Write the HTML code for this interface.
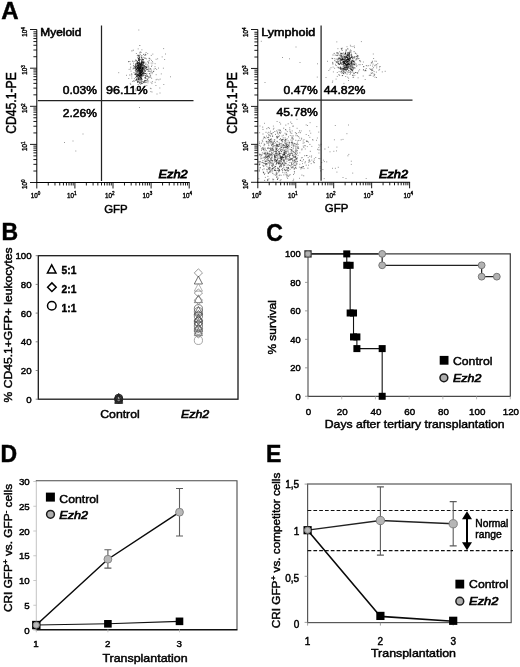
<!DOCTYPE html>
<html><head><meta charset="utf-8"><title>Figure</title>
<style>
html,body{margin:0;padding:0;background:#fff;}
body{width:520px;height:667px;overflow:hidden;font-family:"Liberation Sans",sans-serif;}
svg{display:block;filter:blur(0.35px);}
svg text{font-family:"Liberation Sans",sans-serif;fill:#000;stroke:#000;stroke-width:0.45px;}
</style></head><body>
<svg width="520" height="667" viewBox="0 0 520 667">
<rect width="520" height="667" fill="#fff"/>
<text x="1.3" y="19.3" font-size="24" text-anchor="start" font-weight="bold" >A</text>
<text x="1.5" y="240.3" font-size="23" text-anchor="start" font-weight="bold" >B</text>
<text x="266.3" y="241.3" font-size="23" text-anchor="start" font-weight="bold" >C</text>
<text x="0.5" y="461.8" font-size="23" text-anchor="start" font-weight="bold" >D</text>
<text x="266" y="462" font-size="23" text-anchor="start" font-weight="bold" >E</text>
<line x1="36.8" y1="29.5" x2="36.8" y2="183.0" stroke="#000" stroke-width="1" />
<line x1="36.3" y1="182.5" x2="189.7" y2="182.5" stroke="#000" stroke-width="1" />
<line x1="36.80" y1="182.5" x2="36.80" y2="188.48" stroke="#000" stroke-width="0.9" />
<line x1="36.8" y1="182.50" x2="30.00" y2="182.50" stroke="#000" stroke-width="0.9" />
<line x1="48.27" y1="182.5" x2="48.27" y2="185.49" stroke="#000" stroke-width="0.9" />
<line x1="36.8" y1="171.03" x2="33.40" y2="171.03" stroke="#000" stroke-width="0.9" />
<line x1="54.98" y1="182.5" x2="54.98" y2="185.49" stroke="#000" stroke-width="0.9" />
<line x1="36.8" y1="164.32" x2="33.40" y2="164.32" stroke="#000" stroke-width="0.9" />
<line x1="59.74" y1="182.5" x2="59.74" y2="185.49" stroke="#000" stroke-width="0.9" />
<line x1="36.8" y1="159.56" x2="33.40" y2="159.56" stroke="#000" stroke-width="0.9" />
<line x1="63.43" y1="182.5" x2="63.43" y2="185.49" stroke="#000" stroke-width="0.9" />
<line x1="36.8" y1="155.87" x2="33.40" y2="155.87" stroke="#000" stroke-width="0.9" />
<line x1="66.45" y1="182.5" x2="66.45" y2="185.49" stroke="#000" stroke-width="0.9" />
<line x1="36.8" y1="152.85" x2="33.40" y2="152.85" stroke="#000" stroke-width="0.9" />
<line x1="69.00" y1="182.5" x2="69.00" y2="185.49" stroke="#000" stroke-width="0.9" />
<line x1="36.8" y1="150.30" x2="33.40" y2="150.30" stroke="#000" stroke-width="0.9" />
<line x1="71.21" y1="182.5" x2="71.21" y2="185.49" stroke="#000" stroke-width="0.9" />
<line x1="36.8" y1="148.09" x2="33.40" y2="148.09" stroke="#000" stroke-width="0.9" />
<line x1="73.16" y1="182.5" x2="73.16" y2="185.49" stroke="#000" stroke-width="0.9" />
<line x1="36.8" y1="146.14" x2="33.40" y2="146.14" stroke="#000" stroke-width="0.9" />
<line x1="74.90" y1="182.5" x2="74.90" y2="188.48" stroke="#000" stroke-width="0.9" />
<line x1="36.8" y1="144.40" x2="30.00" y2="144.40" stroke="#000" stroke-width="0.9" />
<line x1="86.37" y1="182.5" x2="86.37" y2="185.49" stroke="#000" stroke-width="0.9" />
<line x1="36.8" y1="132.93" x2="33.40" y2="132.93" stroke="#000" stroke-width="0.9" />
<line x1="93.08" y1="182.5" x2="93.08" y2="185.49" stroke="#000" stroke-width="0.9" />
<line x1="36.8" y1="126.22" x2="33.40" y2="126.22" stroke="#000" stroke-width="0.9" />
<line x1="97.84" y1="182.5" x2="97.84" y2="185.49" stroke="#000" stroke-width="0.9" />
<line x1="36.8" y1="121.46" x2="33.40" y2="121.46" stroke="#000" stroke-width="0.9" />
<line x1="101.53" y1="182.5" x2="101.53" y2="185.49" stroke="#000" stroke-width="0.9" />
<line x1="36.8" y1="117.77" x2="33.40" y2="117.77" stroke="#000" stroke-width="0.9" />
<line x1="104.55" y1="182.5" x2="104.55" y2="185.49" stroke="#000" stroke-width="0.9" />
<line x1="36.8" y1="114.75" x2="33.40" y2="114.75" stroke="#000" stroke-width="0.9" />
<line x1="107.10" y1="182.5" x2="107.10" y2="185.49" stroke="#000" stroke-width="0.9" />
<line x1="36.8" y1="112.20" x2="33.40" y2="112.20" stroke="#000" stroke-width="0.9" />
<line x1="109.31" y1="182.5" x2="109.31" y2="185.49" stroke="#000" stroke-width="0.9" />
<line x1="36.8" y1="109.99" x2="33.40" y2="109.99" stroke="#000" stroke-width="0.9" />
<line x1="111.26" y1="182.5" x2="111.26" y2="185.49" stroke="#000" stroke-width="0.9" />
<line x1="36.8" y1="108.04" x2="33.40" y2="108.04" stroke="#000" stroke-width="0.9" />
<line x1="113.00" y1="182.5" x2="113.00" y2="188.48" stroke="#000" stroke-width="0.9" />
<line x1="36.8" y1="106.30" x2="30.00" y2="106.30" stroke="#000" stroke-width="0.9" />
<line x1="124.47" y1="182.5" x2="124.47" y2="185.49" stroke="#000" stroke-width="0.9" />
<line x1="36.8" y1="94.83" x2="33.40" y2="94.83" stroke="#000" stroke-width="0.9" />
<line x1="131.18" y1="182.5" x2="131.18" y2="185.49" stroke="#000" stroke-width="0.9" />
<line x1="36.8" y1="88.12" x2="33.40" y2="88.12" stroke="#000" stroke-width="0.9" />
<line x1="135.94" y1="182.5" x2="135.94" y2="185.49" stroke="#000" stroke-width="0.9" />
<line x1="36.8" y1="83.36" x2="33.40" y2="83.36" stroke="#000" stroke-width="0.9" />
<line x1="139.63" y1="182.5" x2="139.63" y2="185.49" stroke="#000" stroke-width="0.9" />
<line x1="36.8" y1="79.67" x2="33.40" y2="79.67" stroke="#000" stroke-width="0.9" />
<line x1="142.65" y1="182.5" x2="142.65" y2="185.49" stroke="#000" stroke-width="0.9" />
<line x1="36.8" y1="76.65" x2="33.40" y2="76.65" stroke="#000" stroke-width="0.9" />
<line x1="145.20" y1="182.5" x2="145.20" y2="185.49" stroke="#000" stroke-width="0.9" />
<line x1="36.8" y1="74.10" x2="33.40" y2="74.10" stroke="#000" stroke-width="0.9" />
<line x1="147.41" y1="182.5" x2="147.41" y2="185.49" stroke="#000" stroke-width="0.9" />
<line x1="36.8" y1="71.89" x2="33.40" y2="71.89" stroke="#000" stroke-width="0.9" />
<line x1="149.36" y1="182.5" x2="149.36" y2="185.49" stroke="#000" stroke-width="0.9" />
<line x1="36.8" y1="69.94" x2="33.40" y2="69.94" stroke="#000" stroke-width="0.9" />
<line x1="151.10" y1="182.5" x2="151.10" y2="188.48" stroke="#000" stroke-width="0.9" />
<line x1="36.8" y1="68.20" x2="30.00" y2="68.20" stroke="#000" stroke-width="0.9" />
<line x1="162.57" y1="182.5" x2="162.57" y2="185.49" stroke="#000" stroke-width="0.9" />
<line x1="36.8" y1="56.73" x2="33.40" y2="56.73" stroke="#000" stroke-width="0.9" />
<line x1="169.28" y1="182.5" x2="169.28" y2="185.49" stroke="#000" stroke-width="0.9" />
<line x1="36.8" y1="50.02" x2="33.40" y2="50.02" stroke="#000" stroke-width="0.9" />
<line x1="174.04" y1="182.5" x2="174.04" y2="185.49" stroke="#000" stroke-width="0.9" />
<line x1="36.8" y1="45.26" x2="33.40" y2="45.26" stroke="#000" stroke-width="0.9" />
<line x1="177.73" y1="182.5" x2="177.73" y2="185.49" stroke="#000" stroke-width="0.9" />
<line x1="36.8" y1="41.57" x2="33.40" y2="41.57" stroke="#000" stroke-width="0.9" />
<line x1="180.75" y1="182.5" x2="180.75" y2="185.49" stroke="#000" stroke-width="0.9" />
<line x1="36.8" y1="38.55" x2="33.40" y2="38.55" stroke="#000" stroke-width="0.9" />
<line x1="183.30" y1="182.5" x2="183.30" y2="185.49" stroke="#000" stroke-width="0.9" />
<line x1="36.8" y1="36.00" x2="33.40" y2="36.00" stroke="#000" stroke-width="0.9" />
<line x1="185.51" y1="182.5" x2="185.51" y2="185.49" stroke="#000" stroke-width="0.9" />
<line x1="36.8" y1="33.79" x2="33.40" y2="33.79" stroke="#000" stroke-width="0.9" />
<line x1="187.46" y1="182.5" x2="187.46" y2="185.49" stroke="#000" stroke-width="0.9" />
<line x1="36.8" y1="31.84" x2="33.40" y2="31.84" stroke="#000" stroke-width="0.9" />
<line x1="189.2" y1="182.5" x2="189.2" y2="188.5" stroke="#000" stroke-width="0.9" />
<line x1="36.8" y1="29.5" x2="29.999999999999996" y2="29.5" stroke="#000" stroke-width="0.9" />
<text x="35.6" y="197.7" font-size="6.3" style="stroke-width:0.35px" text-anchor="middle">10<tspan dy="-2.5" font-size="4.6">0</tspan></text>
<text transform="translate(26.999999999999996,184.3) rotate(-90)" font-size="6.3" style="stroke-width:0.35px" text-anchor="middle">10<tspan dy="-2.5" font-size="4.6">0</tspan></text>
<text x="71.8" y="197.7" font-size="6.3" style="stroke-width:0.35px" text-anchor="middle">10<tspan dy="-2.5" font-size="4.6">1</tspan></text>
<text transform="translate(26.999999999999996,146.2) rotate(-90)" font-size="6.3" style="stroke-width:0.35px" text-anchor="middle">10<tspan dy="-2.5" font-size="4.6">1</tspan></text>
<text x="109.8" y="197.7" font-size="6.3" style="stroke-width:0.35px" text-anchor="middle">10<tspan dy="-2.5" font-size="4.6">2</tspan></text>
<text transform="translate(26.999999999999996,108.1) rotate(-90)" font-size="6.3" style="stroke-width:0.35px" text-anchor="middle">10<tspan dy="-2.5" font-size="4.6">2</tspan></text>
<text x="147.4" y="197.7" font-size="6.3" style="stroke-width:0.35px" text-anchor="middle">10<tspan dy="-2.5" font-size="4.6">3</tspan></text>
<text transform="translate(26.999999999999996,70.0) rotate(-90)" font-size="6.3" style="stroke-width:0.35px" text-anchor="middle">10<tspan dy="-2.5" font-size="4.6">3</tspan></text>
<text x="187.2" y="197.7" font-size="6.3" style="stroke-width:0.35px" text-anchor="middle">10<tspan dy="-2.5" font-size="4.6">4</tspan></text>
<text transform="translate(26.999999999999996,31.9) rotate(-90)" font-size="6.3" style="stroke-width:0.35px" text-anchor="middle">10<tspan dy="-2.5" font-size="4.6">4</tspan></text>
<line x1="101.5" y1="25.5" x2="101.5" y2="181.0" stroke="#222" stroke-width="1.25" />
<line x1="37.8" y1="100.5" x2="193.5" y2="100.5" stroke="#222" stroke-width="1.25" />
<path d="M137.0 72.1h.01M142.1 66.7h.01M136.7 69.4h.01M140.9 76.4h.01M137.0 62.0h.01M141.4 72.6h.01M143.3 75.7h.01M139.6 68.2h.01M145.7 68.1h.01M138.0 63.0h.01M140.0 70.7h.01M139.0 69.4h.01M140.4 74.0h.01M142.3 71.1h.01M135.7 74.0h.01M136.5 68.8h.01M136.4 69.8h.01M138.0 71.1h.01M147.4 69.5h.01M141.7 61.9h.01M139.1 73.8h.01M139.6 72.0h.01M140.0 63.8h.01M141.1 64.9h.01M144.1 66.8h.01M141.4 69.8h.01M142.0 66.2h.01M142.1 69.1h.01M142.7 73.5h.01M140.1 65.1h.01M141.6 72.6h.01M143.6 67.5h.01M141.1 72.8h.01M140.5 71.1h.01M140.2 66.2h.01M137.5 67.4h.01M141.2 78.9h.01M142.0 76.1h.01M141.6 74.0h.01M140.2 74.4h.01M143.9 67.8h.01M138.2 81.6h.01M140.4 75.6h.01M141.8 63.0h.01M145.4 80.5h.01M140.2 74.3h.01M140.1 64.5h.01M139.5 72.0h.01M142.4 74.1h.01M139.9 77.9h.01M138.1 74.6h.01M142.4 68.0h.01M135.7 64.4h.01M140.3 73.0h.01M143.4 63.8h.01M139.8 73.7h.01M139.4 55.6h.01M141.7 83.7h.01M142.1 64.3h.01M138.9 71.1h.01M145.5 73.5h.01M140.1 79.1h.01M139.6 81.0h.01M138.2 67.0h.01M141.5 78.3h.01M141.3 71.6h.01M135.6 65.5h.01M138.4 66.6h.01M141.1 67.8h.01M141.6 70.3h.01M139.0 70.5h.01M140.8 74.9h.01M138.7 68.4h.01M136.7 79.4h.01M143.1 68.7h.01M138.7 62.4h.01M140.2 71.0h.01M144.8 71.3h.01M138.0 55.1h.01M143.0 70.9h.01M136.1 70.9h.01M136.1 90.7h.01M142.4 73.2h.01M139.4 57.0h.01M139.5 60.5h.01M141.2 57.0h.01M137.7 77.1h.01M143.6 62.7h.01M136.3 75.1h.01M141.8 63.9h.01M138.2 65.6h.01M137.1 65.7h.01M142.7 73.9h.01M144.5 69.3h.01M139.5 63.9h.01M139.5 61.9h.01M135.7 74.0h.01M143.1 74.8h.01M142.9 71.3h.01M138.1 70.3h.01M138.9 63.1h.01M135.9 60.9h.01M139.8 70.7h.01M138.7 78.4h.01M140.2 73.3h.01M142.6 64.9h.01M135.3 74.3h.01M138.2 77.7h.01M140.6 75.8h.01M141.6 57.3h.01M141.5 65.8h.01M138.1 67.2h.01M141.6 75.1h.01M142.1 59.8h.01M138.4 55.5h.01M139.6 73.4h.01M138.0 71.3h.01M140.3 75.8h.01M137.9 64.8h.01M138.0 80.3h.01M142.3 69.1h.01M140.3 70.5h.01M140.3 68.5h.01M139.0 62.3h.01M138.3 79.7h.01M141.0 70.2h.01M139.3 70.2h.01M140.6 65.9h.01M140.3 71.2h.01M138.1 65.1h.01M137.5 63.4h.01M141.8 55.6h.01M139.2 66.1h.01M138.4 70.4h.01M142.4 70.3h.01M139.5 66.1h.01M139.5 75.3h.01M138.9 62.9h.01M136.9 63.2h.01M136.6 76.4h.01M140.6 68.4h.01M143.2 65.9h.01M141.5 74.6h.01M136.2 60.5h.01M137.7 75.2h.01M142.8 62.4h.01M142.2 67.5h.01M138.9 66.5h.01M139.1 58.9h.01M137.5 62.4h.01M140.9 82.3h.01M146.1 67.8h.01M135.8 67.4h.01M137.6 81.7h.01M141.1 65.4h.01M142.0 73.0h.01M136.1 66.6h.01M139.2 69.9h.01M140.1 67.8h.01M140.2 66.3h.01M137.7 78.9h.01M140.6 72.4h.01M136.1 68.8h.01M141.7 62.1h.01M142.3 67.5h.01M140.7 69.0h.01M140.3 77.0h.01M138.9 79.2h.01M138.0 64.2h.01M141.4 63.4h.01M138.9 75.2h.01M142.6 59.2h.01M141.0 81.1h.01M142.5 68.4h.01M138.4 68.0h.01M137.1 68.2h.01M139.4 68.9h.01M142.5 68.4h.01M136.4 76.1h.01M137.3 67.1h.01M139.5 67.7h.01M137.5 68.3h.01M144.8 66.2h.01M139.5 76.5h.01M141.5 74.4h.01M141.8 58.0h.01M137.8 70.6h.01M140.9 77.6h.01M140.9 68.4h.01M139.9 68.5h.01M140.4 73.8h.01M139.0 64.9h.01M137.8 76.4h.01M142.7 75.8h.01M141.8 74.8h.01M139.8 73.8h.01M137.4 68.6h.01M138.1 74.2h.01M138.5 69.2h.01M140.7 77.9h.01M138.0 64.2h.01M141.7 63.2h.01M140.8 66.4h.01M139.6 58.9h.01M141.4 66.8h.01M137.7 82.3h.01M141.4 90.9h.01M140.7 67.7h.01M140.0 79.4h.01M139.7 72.5h.01M141.0 64.3h.01M140.1 66.8h.01M136.9 75.0h.01M141.3 70.2h.01M137.7 57.8h.01M140.9 69.2h.01M135.9 69.4h.01M136.3 69.6h.01M140.1 71.9h.01M140.3 70.8h.01M137.2 67.5h.01M138.6 68.4h.01M140.4 73.5h.01M143.6 54.4h.01M140.7 68.6h.01M145.0 75.4h.01M136.0 72.2h.01M138.6 75.8h.01M137.4 69.2h.01M139.5 69.2h.01M138.5 58.8h.01M140.9 75.8h.01M139.6 63.7h.01M140.3 73.2h.01M139.4 69.7h.01M143.0 63.1h.01M138.5 58.4h.01M138.2 65.4h.01M137.6 65.6h.01M143.9 68.6h.01M139.5 83.0h.01M139.7 59.4h.01M140.7 64.2h.01M143.6 62.3h.01M138.5 60.2h.01M140.0 63.7h.01M139.6 67.5h.01M138.4 75.5h.01M142.0 70.2h.01M137.7 63.4h.01M140.4 84.1h.01M138.7 65.1h.01M138.2 63.2h.01M137.6 68.6h.01M143.1 69.8h.01M138.6 60.1h.01M140.3 69.6h.01M137.0 63.3h.01M139.7 75.9h.01M141.2 71.0h.01M139.1 71.7h.01M139.8 82.8h.01M137.2 67.6h.01M142.7 68.2h.01M143.1 69.5h.01M140.1 67.6h.01M136.6 64.0h.01M144.9 73.7h.01M141.2 75.5h.01M141.1 75.9h.01" stroke="#000" stroke-opacity="0.6" stroke-width="0.95" stroke-linecap="square" fill="none"/>
<path d="M139.4 68.2h.01M144.6 67.2h.01M134.9 68.2h.01M138.2 74.9h.01M137.5 61.5h.01M139.1 82.4h.01M140.3 71.3h.01M140.5 72.4h.01M144.4 81.2h.01M133.6 80.9h.01M140.5 67.4h.01M150.6 68.6h.01M148.7 77.7h.01M136.2 73.9h.01M143.6 69.0h.01M130.7 67.2h.01M139.7 61.1h.01M148.2 68.0h.01M138.8 67.6h.01M137.2 63.8h.01M140.9 72.5h.01M138.4 69.3h.01M134.7 74.2h.01M137.4 71.7h.01M136.7 65.9h.01M141.4 60.3h.01M150.9 69.7h.01M140.2 64.1h.01M147.2 81.1h.01M141.8 59.1h.01M138.4 74.9h.01M138.3 60.5h.01M135.5 63.8h.01M140.6 64.8h.01M140.6 92.3h.01M147.9 61.7h.01M141.9 70.7h.01M139.9 78.3h.01M139.1 67.4h.01M138.9 69.2h.01M145.9 76.2h.01M134.9 66.5h.01M137.1 76.5h.01M141.4 77.1h.01M140.2 54.7h.01M142.4 71.8h.01M142.6 59.6h.01M140.8 64.5h.01M137.6 72.8h.01M142.0 62.9h.01M133.3 50.2h.01M138.1 79.0h.01M140.3 52.0h.01M136.9 73.4h.01M147.5 79.3h.01M142.0 71.6h.01M136.1 66.4h.01M139.1 63.8h.01M140.8 66.9h.01M141.9 81.5h.01M143.6 73.3h.01M139.5 57.8h.01M140.0 74.3h.01M136.3 80.0h.01M139.1 73.0h.01M139.1 60.0h.01M149.2 60.7h.01M144.4 65.6h.01M141.7 63.6h.01M138.8 77.4h.01M148.7 63.2h.01M140.5 77.6h.01M137.9 75.7h.01M137.2 74.8h.01M142.3 79.7h.01M142.0 60.5h.01M143.3 61.2h.01M143.7 82.1h.01M143.0 65.6h.01M145.5 71.3h.01M135.3 67.2h.01M146.5 67.6h.01M141.0 67.3h.01M133.4 65.9h.01M142.0 71.7h.01M139.8 52.9h.01M145.6 75.8h.01M144.8 80.4h.01M138.6 65.2h.01M141.8 83.4h.01M133.4 68.2h.01M137.5 74.5h.01M146.7 67.6h.01M135.3 70.4h.01M139.3 57.7h.01M144.2 65.8h.01M143.4 59.5h.01M145.1 58.5h.01M144.9 55.5h.01M146.3 67.0h.01M134.0 68.1h.01M141.9 62.1h.01M138.4 72.2h.01M139.8 45.5h.01M138.7 73.4h.01M141.7 78.1h.01M137.6 90.4h.01M143.9 72.5h.01M145.1 77.6h.01M140.9 65.0h.01M144.8 73.4h.01M132.6 61.2h.01M142.5 70.9h.01M141.7 75.1h.01M141.1 82.7h.01M138.0 66.8h.01M141.9 76.0h.01M143.8 81.9h.01M138.5 79.3h.01M142.5 61.7h.01M139.9 86.7h.01M143.8 66.2h.01M130.4 64.1h.01M137.5 70.6h.01M150.2 76.0h.01M141.8 62.5h.01M135.5 68.3h.01M138.5 94.1h.01M138.8 65.1h.01M145.2 70.6h.01M135.3 80.3h.01M139.2 59.4h.01M141.8 73.9h.01M139.1 75.6h.01M143.9 62.9h.01M131.9 50.9h.01M140.0 79.8h.01M144.7 81.1h.01M148.3 70.1h.01M144.9 57.8h.01M143.4 73.1h.01M140.1 66.5h.01M135.8 71.1h.01M145.9 67.1h.01M142.7 64.7h.01M141.6 61.9h.01M142.1 68.3h.01M141.8 65.1h.01M135.6 67.4h.01M144.9 82.6h.01M139.1 76.4h.01M143.7 73.1h.01M134.0 72.6h.01M136.4 79.4h.01M143.8 74.9h.01M129.8 75.0h.01M143.4 59.8h.01M144.6 70.6h.01M139.7 64.3h.01M136.2 66.5h.01M153.5 71.6h.01M141.4 64.8h.01M137.9 65.6h.01M136.8 77.0h.01M139.4 76.9h.01M135.6 77.4h.01M140.4 75.3h.01M140.1 62.9h.01M145.6 66.5h.01M139.9 62.9h.01" stroke="#000" stroke-opacity="0.55" stroke-width="0.95" stroke-linecap="square" fill="none"/>
<path d="M146.1 66.3h.01M146.8 73.3h.01M139.0 56.6h.01M148.0 78.7h.01M150.1 59.1h.01M149.3 73.7h.01M146.8 74.1h.01M141.9 72.0h.01M151.9 65.2h.01M133.0 69.0h.01M146.1 52.5h.01M139.1 75.6h.01M143.3 70.9h.01M134.4 78.6h.01M158.5 68.1h.01M138.6 59.0h.01M151.6 71.0h.01M138.1 81.5h.01M150.6 75.7h.01M130.4 69.0h.01M149.5 58.4h.01M151.9 83.6h.01M152.8 63.1h.01M138.8 78.9h.01M152.5 81.7h.01M154.1 69.1h.01M141.2 52.4h.01M150.8 91.6h.01M140.8 65.5h.01M149.7 73.6h.01M133.5 63.2h.01M135.7 89.2h.01M138.8 78.1h.01M159.8 88.0h.01M155.9 85.5h.01M134.6 66.7h.01M138.7 67.2h.01M165.5 54.0h.01M149.0 58.3h.01M155.2 82.3h.01M140.4 89.7h.01M145.1 82.4h.01M147.0 64.7h.01M141.5 68.9h.01M149.4 71.2h.01M163.4 68.2h.01M140.8 63.2h.01M138.3 56.3h.01M136.6 78.6h.01M145.0 68.4h.01M147.3 80.1h.01M149.4 77.3h.01M140.0 67.5h.01M138.3 69.1h.01M138.0 66.5h.01M143.1 67.9h.01M142.4 65.3h.01M155.0 66.7h.01M136.4 71.8h.01M135.8 59.8h.01M145.2 54.2h.01M118.7 72.7h.01M152.8 54.1h.01M137.3 75.5h.01M128.6 61.7h.01M134.9 68.1h.01M128.7 78.5h.01M143.3 72.9h.01M141.9 49.8h.01M143.3 57.3h.01M144.6 61.9h.01M142.0 68.0h.01M150.7 77.3h.01M136.5 69.8h.01M156.2 74.7h.01M138.7 68.8h.01M141.7 78.9h.01M144.8 73.6h.01M162.2 56.9h.01M136.4 53.5h.01M131.8 78.1h.01M146.8 85.5h.01M128.7 61.6h.01M156.1 79.8h.01M151.6 78.3h.01M144.8 69.9h.01M144.8 78.0h.01M143.2 73.0h.01M156.1 59.3h.01M138.5 75.4h.01M142.4 68.5h.01M161.3 73.9h.01M141.2 80.4h.01M164.6 59.5h.01M139.1 71.1h.01M139.4 90.6h.01M148.7 66.2h.01M148.4 62.4h.01M139.7 71.0h.01M163.6 48.6h.01M147.9 82.8h.01M150.4 88.3h.01M148.1 71.4h.01M143.4 61.9h.01M157.6 58.8h.01M143.5 65.0h.01M138.2 48.9h.01M141.4 71.3h.01M145.6 78.0h.01M143.2 63.9h.01M147.0 76.3h.01M137.3 55.6h.01M136.3 80.0h.01M152.5 61.6h.01M145.4 78.0h.01M155.1 63.7h.01M142.6 83.4h.01M163.8 84.5h.01M135.4 74.3h.01M142.1 69.4h.01M139.2 65.4h.01M144.4 87.1h.01M150.1 74.1h.01M144.7 62.9h.01M142.7 81.8h.01M151.1 88.7h.01M146.6 69.8h.01M131.6 73.8h.01M130.7 84.5h.01M139.5 70.0h.01M133.7 65.3h.01M137.0 80.7h.01M146.5 58.8h.01M129.1 69.4h.01M140.6 59.5h.01M149.2 68.2h.01M145.4 64.4h.01M139.9 65.6h.01M131.7 76.0h.01M147.7 53.6h.01M145.3 81.0h.01M146.4 82.3h.01M142.4 70.0h.01M134.1 61.4h.01M129.9 61.5h.01M146.5 74.9h.01M153.8 71.2h.01M136.6 74.1h.01M143.3 86.9h.01M160.2 79.1h.01M135.4 65.0h.01M146.0 63.2h.01M148.7 76.5h.01M151.2 72.2h.01M137.4 62.0h.01M143.5 82.6h.01M157.1 79.3h.01M147.4 76.4h.01M151.1 82.3h.01M151.3 55.4h.01M152.1 73.7h.01M140.8 75.0h.01M146.8 69.5h.01M131.0 71.1h.01M149.0 69.5h.01M131.8 74.4h.01M150.3 71.7h.01M147.9 66.7h.01M139.2 75.0h.01M141.7 71.7h.01M170.5 76.8h.01M145.6 54.6h.01M145.3 77.2h.01M138.9 67.7h.01M126.5 75.3h.01M139.7 76.5h.01M155.4 68.5h.01M152.4 72.4h.01M142.9 67.3h.01M137.7 82.2h.01M151.5 60.4h.01M151.2 63.1h.01M132.5 81.4h.01M134.3 81.3h.01M146.1 78.6h.01M148.6 81.0h.01M147.3 75.5h.01M146.5 80.4h.01M141.4 79.7h.01M156.6 69.4h.01M148.0 65.1h.01M142.2 72.5h.01M141.8 61.6h.01M144.3 71.8h.01M147.1 76.7h.01M130.3 83.4h.01M143.1 62.7h.01M141.5 74.2h.01M151.5 66.5h.01M145.8 54.8h.01M145.9 68.9h.01M141.1 78.4h.01M158.8 79.8h.01M138.2 84.5h.01M141.8 69.6h.01M139.9 74.3h.01M148.9 71.4h.01M142.8 68.6h.01M141.3 79.2h.01M140.3 68.6h.01M64.5 142.5h.01M73.0 141.0h.01M75.8 151.0h.01M83.0 134.0h.01M138.8 30.0h.01M139.5 107.5h.01M160.0 93.0h.01M157.0 94.0h.01M152.0 92.0h.01" stroke="#000" stroke-opacity="0.42" stroke-width="0.95" stroke-linecap="square" fill="none"/>
<text x="40.3" y="35.5" font-size="11" text-anchor="start" textLength="41" lengthAdjust="spacingAndGlyphs" style="stroke-width:0.55px">Myeloid</text>
<text x="97.0" y="93.8" font-size="11.6" text-anchor="end" textLength="34.2" lengthAdjust="spacingAndGlyphs" style="stroke-width:0.55px">0.03%</text>
<text x="106.0" y="93.8" font-size="11.6" text-anchor="start" textLength="41.6" lengthAdjust="spacingAndGlyphs" style="stroke-width:0.55px">96.11%</text>
<text x="97.0" y="116.7" font-size="11.6" text-anchor="end" textLength="34.2" lengthAdjust="spacingAndGlyphs" style="stroke-width:0.55px">2.26%</text>
<text x="187.6" y="178.3" font-size="11.4" text-anchor="end" font-style="italic" textLength="29" lengthAdjust="spacingAndGlyphs" style="stroke-width:0.8px">Ezh2</text>
<text x="115.9" y="212.5" font-size="11.2" text-anchor="middle" textLength="23.5" lengthAdjust="spacingAndGlyphs" >GFP</text>
<text transform="translate(15.799999999999997,103) rotate(-90)" font-size="14.5" text-anchor="middle" textLength="61.5" lengthAdjust="spacingAndGlyphs" >CD45.1-PE</text>
<line x1="257.8" y1="29.5" x2="257.8" y2="182.8" stroke="#000" stroke-width="1" />
<line x1="257.3" y1="182.3" x2="410.1" y2="182.3" stroke="#000" stroke-width="1" />
<line x1="257.80" y1="182.3" x2="257.80" y2="188.28" stroke="#000" stroke-width="0.9" />
<line x1="257.8" y1="182.30" x2="251.00" y2="182.30" stroke="#000" stroke-width="0.9" />
<line x1="269.22" y1="182.3" x2="269.22" y2="185.29" stroke="#000" stroke-width="0.9" />
<line x1="257.8" y1="170.88" x2="254.40" y2="170.88" stroke="#000" stroke-width="0.9" />
<line x1="275.91" y1="182.3" x2="275.91" y2="185.29" stroke="#000" stroke-width="0.9" />
<line x1="257.8" y1="164.19" x2="254.40" y2="164.19" stroke="#000" stroke-width="0.9" />
<line x1="280.65" y1="182.3" x2="280.65" y2="185.29" stroke="#000" stroke-width="0.9" />
<line x1="257.8" y1="159.45" x2="254.40" y2="159.45" stroke="#000" stroke-width="0.9" />
<line x1="284.33" y1="182.3" x2="284.33" y2="185.29" stroke="#000" stroke-width="0.9" />
<line x1="257.8" y1="155.77" x2="254.40" y2="155.77" stroke="#000" stroke-width="0.9" />
<line x1="287.33" y1="182.3" x2="287.33" y2="185.29" stroke="#000" stroke-width="0.9" />
<line x1="257.8" y1="152.77" x2="254.40" y2="152.77" stroke="#000" stroke-width="0.9" />
<line x1="289.87" y1="182.3" x2="289.87" y2="185.29" stroke="#000" stroke-width="0.9" />
<line x1="257.8" y1="150.23" x2="254.40" y2="150.23" stroke="#000" stroke-width="0.9" />
<line x1="292.07" y1="182.3" x2="292.07" y2="185.29" stroke="#000" stroke-width="0.9" />
<line x1="257.8" y1="148.03" x2="254.40" y2="148.03" stroke="#000" stroke-width="0.9" />
<line x1="294.01" y1="182.3" x2="294.01" y2="185.29" stroke="#000" stroke-width="0.9" />
<line x1="257.8" y1="146.09" x2="254.40" y2="146.09" stroke="#000" stroke-width="0.9" />
<line x1="295.75" y1="182.3" x2="295.75" y2="188.28" stroke="#000" stroke-width="0.9" />
<line x1="257.8" y1="144.35" x2="251.00" y2="144.35" stroke="#000" stroke-width="0.9" />
<line x1="307.17" y1="182.3" x2="307.17" y2="185.29" stroke="#000" stroke-width="0.9" />
<line x1="257.8" y1="132.93" x2="254.40" y2="132.93" stroke="#000" stroke-width="0.9" />
<line x1="313.86" y1="182.3" x2="313.86" y2="185.29" stroke="#000" stroke-width="0.9" />
<line x1="257.8" y1="126.24" x2="254.40" y2="126.24" stroke="#000" stroke-width="0.9" />
<line x1="318.60" y1="182.3" x2="318.60" y2="185.29" stroke="#000" stroke-width="0.9" />
<line x1="257.8" y1="121.50" x2="254.40" y2="121.50" stroke="#000" stroke-width="0.9" />
<line x1="322.28" y1="182.3" x2="322.28" y2="185.29" stroke="#000" stroke-width="0.9" />
<line x1="257.8" y1="117.82" x2="254.40" y2="117.82" stroke="#000" stroke-width="0.9" />
<line x1="325.28" y1="182.3" x2="325.28" y2="185.29" stroke="#000" stroke-width="0.9" />
<line x1="257.8" y1="114.82" x2="254.40" y2="114.82" stroke="#000" stroke-width="0.9" />
<line x1="327.82" y1="182.3" x2="327.82" y2="185.29" stroke="#000" stroke-width="0.9" />
<line x1="257.8" y1="112.28" x2="254.40" y2="112.28" stroke="#000" stroke-width="0.9" />
<line x1="330.02" y1="182.3" x2="330.02" y2="185.29" stroke="#000" stroke-width="0.9" />
<line x1="257.8" y1="110.08" x2="254.40" y2="110.08" stroke="#000" stroke-width="0.9" />
<line x1="331.96" y1="182.3" x2="331.96" y2="185.29" stroke="#000" stroke-width="0.9" />
<line x1="257.8" y1="108.14" x2="254.40" y2="108.14" stroke="#000" stroke-width="0.9" />
<line x1="333.70" y1="182.3" x2="333.70" y2="188.28" stroke="#000" stroke-width="0.9" />
<line x1="257.8" y1="106.40" x2="251.00" y2="106.40" stroke="#000" stroke-width="0.9" />
<line x1="345.12" y1="182.3" x2="345.12" y2="185.29" stroke="#000" stroke-width="0.9" />
<line x1="257.8" y1="94.98" x2="254.40" y2="94.98" stroke="#000" stroke-width="0.9" />
<line x1="351.81" y1="182.3" x2="351.81" y2="185.29" stroke="#000" stroke-width="0.9" />
<line x1="257.8" y1="88.29" x2="254.40" y2="88.29" stroke="#000" stroke-width="0.9" />
<line x1="356.55" y1="182.3" x2="356.55" y2="185.29" stroke="#000" stroke-width="0.9" />
<line x1="257.8" y1="83.55" x2="254.40" y2="83.55" stroke="#000" stroke-width="0.9" />
<line x1="360.23" y1="182.3" x2="360.23" y2="185.29" stroke="#000" stroke-width="0.9" />
<line x1="257.8" y1="79.87" x2="254.40" y2="79.87" stroke="#000" stroke-width="0.9" />
<line x1="363.23" y1="182.3" x2="363.23" y2="185.29" stroke="#000" stroke-width="0.9" />
<line x1="257.8" y1="76.87" x2="254.40" y2="76.87" stroke="#000" stroke-width="0.9" />
<line x1="365.77" y1="182.3" x2="365.77" y2="185.29" stroke="#000" stroke-width="0.9" />
<line x1="257.8" y1="74.33" x2="254.40" y2="74.33" stroke="#000" stroke-width="0.9" />
<line x1="367.97" y1="182.3" x2="367.97" y2="185.29" stroke="#000" stroke-width="0.9" />
<line x1="257.8" y1="72.13" x2="254.40" y2="72.13" stroke="#000" stroke-width="0.9" />
<line x1="369.91" y1="182.3" x2="369.91" y2="185.29" stroke="#000" stroke-width="0.9" />
<line x1="257.8" y1="70.19" x2="254.40" y2="70.19" stroke="#000" stroke-width="0.9" />
<line x1="371.65" y1="182.3" x2="371.65" y2="188.28" stroke="#000" stroke-width="0.9" />
<line x1="257.8" y1="68.45" x2="251.00" y2="68.45" stroke="#000" stroke-width="0.9" />
<line x1="383.07" y1="182.3" x2="383.07" y2="185.29" stroke="#000" stroke-width="0.9" />
<line x1="257.8" y1="57.03" x2="254.40" y2="57.03" stroke="#000" stroke-width="0.9" />
<line x1="389.76" y1="182.3" x2="389.76" y2="185.29" stroke="#000" stroke-width="0.9" />
<line x1="257.8" y1="50.34" x2="254.40" y2="50.34" stroke="#000" stroke-width="0.9" />
<line x1="394.50" y1="182.3" x2="394.50" y2="185.29" stroke="#000" stroke-width="0.9" />
<line x1="257.8" y1="45.60" x2="254.40" y2="45.60" stroke="#000" stroke-width="0.9" />
<line x1="398.18" y1="182.3" x2="398.18" y2="185.29" stroke="#000" stroke-width="0.9" />
<line x1="257.8" y1="41.92" x2="254.40" y2="41.92" stroke="#000" stroke-width="0.9" />
<line x1="401.18" y1="182.3" x2="401.18" y2="185.29" stroke="#000" stroke-width="0.9" />
<line x1="257.8" y1="38.92" x2="254.40" y2="38.92" stroke="#000" stroke-width="0.9" />
<line x1="403.72" y1="182.3" x2="403.72" y2="185.29" stroke="#000" stroke-width="0.9" />
<line x1="257.8" y1="36.38" x2="254.40" y2="36.38" stroke="#000" stroke-width="0.9" />
<line x1="405.92" y1="182.3" x2="405.92" y2="185.29" stroke="#000" stroke-width="0.9" />
<line x1="257.8" y1="34.18" x2="254.40" y2="34.18" stroke="#000" stroke-width="0.9" />
<line x1="407.86" y1="182.3" x2="407.86" y2="185.29" stroke="#000" stroke-width="0.9" />
<line x1="257.8" y1="32.24" x2="254.40" y2="32.24" stroke="#000" stroke-width="0.9" />
<line x1="409.6" y1="182.3" x2="409.6" y2="188.3" stroke="#000" stroke-width="0.9" />
<line x1="257.8" y1="29.5" x2="251.0" y2="29.5" stroke="#000" stroke-width="0.9" />
<text x="256.6" y="197.5" font-size="6.3" style="stroke-width:0.35px" text-anchor="middle">10<tspan dy="-2.5" font-size="4.6">0</tspan></text>
<text transform="translate(248.0,184.1) rotate(-90)" font-size="6.3" style="stroke-width:0.35px" text-anchor="middle">10<tspan dy="-2.5" font-size="4.6">0</tspan></text>
<text x="292.8" y="197.5" font-size="6.3" style="stroke-width:0.35px" text-anchor="middle">10<tspan dy="-2.5" font-size="4.6">1</tspan></text>
<text transform="translate(248.0,146.2) rotate(-90)" font-size="6.3" style="stroke-width:0.35px" text-anchor="middle">10<tspan dy="-2.5" font-size="4.6">1</tspan></text>
<text x="330.8" y="197.5" font-size="6.3" style="stroke-width:0.35px" text-anchor="middle">10<tspan dy="-2.5" font-size="4.6">2</tspan></text>
<text transform="translate(248.0,108.2) rotate(-90)" font-size="6.3" style="stroke-width:0.35px" text-anchor="middle">10<tspan dy="-2.5" font-size="4.6">2</tspan></text>
<text x="368.4" y="197.5" font-size="6.3" style="stroke-width:0.35px" text-anchor="middle">10<tspan dy="-2.5" font-size="4.6">3</tspan></text>
<text transform="translate(248.0,70.2) rotate(-90)" font-size="6.3" style="stroke-width:0.35px" text-anchor="middle">10<tspan dy="-2.5" font-size="4.6">3</tspan></text>
<text x="408.2" y="197.5" font-size="6.3" style="stroke-width:0.35px" text-anchor="middle">10<tspan dy="-2.5" font-size="4.6">4</tspan></text>
<text transform="translate(248.0,32.3) rotate(-90)" font-size="6.3" style="stroke-width:0.35px" text-anchor="middle">10<tspan dy="-2.5" font-size="4.6">4</tspan></text>
<line x1="321.1" y1="25.5" x2="321.1" y2="180.8" stroke="#222" stroke-width="1.25" />
<line x1="258.8" y1="100.2" x2="412.5" y2="100.2" stroke="#222" stroke-width="1.25" />
<path d="M356.9 56.5h.01M348.1 61.1h.01M342.3 59.4h.01M344.0 62.0h.01M348.4 68.0h.01M347.5 68.4h.01M348.5 62.9h.01M345.3 57.0h.01M338.7 61.8h.01M345.5 63.9h.01M347.8 55.5h.01M342.8 56.2h.01M351.0 61.6h.01M346.8 57.3h.01M340.2 59.0h.01M345.7 64.6h.01M339.0 63.9h.01M342.1 59.3h.01M344.6 59.8h.01M348.3 66.8h.01M347.8 59.2h.01M348.1 64.1h.01M350.2 63.6h.01M338.5 58.1h.01M344.3 67.0h.01M345.5 67.0h.01M347.5 55.8h.01M346.4 65.1h.01M348.1 54.2h.01M348.2 59.0h.01M336.2 59.1h.01M336.8 55.3h.01M353.0 75.2h.01M351.2 64.4h.01M355.1 63.9h.01M341.5 49.1h.01M350.5 50.1h.01M332.6 58.6h.01M346.5 57.5h.01M351.1 61.7h.01M347.2 64.5h.01M343.4 63.3h.01M357.3 57.1h.01M347.0 65.0h.01M343.6 61.9h.01M338.0 59.8h.01M346.4 68.2h.01M350.7 59.1h.01M340.9 72.0h.01M350.5 51.9h.01M344.6 57.4h.01M343.3 53.0h.01M344.2 59.4h.01M345.1 67.8h.01M347.3 55.7h.01M338.0 59.4h.01M351.8 67.3h.01M343.5 68.5h.01M348.4 59.0h.01M348.4 61.8h.01M341.0 59.9h.01M347.1 69.4h.01M341.3 63.6h.01M346.4 62.0h.01M340.5 69.1h.01M352.6 70.9h.01M348.6 70.3h.01M348.9 67.7h.01M344.7 63.5h.01M344.8 56.6h.01M344.3 56.3h.01M341.0 60.2h.01M343.5 73.5h.01M354.9 68.2h.01M350.2 57.7h.01M347.7 54.5h.01M343.4 59.7h.01M344.6 67.0h.01M342.6 75.5h.01M343.9 67.0h.01M338.8 67.3h.01M340.5 63.5h.01M346.4 66.9h.01M349.3 64.5h.01M345.7 73.0h.01M344.2 62.5h.01M344.1 63.1h.01M341.8 60.1h.01M348.8 59.2h.01M348.6 59.2h.01M353.3 61.7h.01M354.9 65.1h.01M345.8 67.6h.01M352.0 70.7h.01M353.1 67.3h.01M340.8 67.5h.01M346.0 64.6h.01M352.5 58.5h.01M352.8 75.4h.01M349.1 60.7h.01M353.0 63.4h.01M351.5 69.2h.01M339.1 64.1h.01M339.0 58.6h.01M349.3 55.9h.01M342.9 59.9h.01M347.9 64.3h.01M348.5 59.6h.01M342.7 64.6h.01M342.2 57.9h.01M349.8 58.0h.01M342.0 68.5h.01M346.1 50.2h.01M342.7 72.9h.01M360.0 60.7h.01M349.7 66.3h.01M347.9 52.4h.01M351.2 63.8h.01M345.2 53.5h.01M343.3 61.7h.01M345.1 63.5h.01M344.5 67.7h.01M349.3 56.0h.01M343.4 64.6h.01M343.6 69.9h.01M343.7 63.6h.01M349.2 56.1h.01M352.3 61.1h.01M342.9 58.5h.01M338.1 54.9h.01M353.5 61.6h.01M344.9 63.3h.01M349.1 58.0h.01M345.3 63.7h.01M351.2 63.6h.01M354.3 61.1h.01M344.7 54.7h.01M346.1 65.7h.01M345.1 61.3h.01M341.6 59.1h.01M344.1 61.8h.01M351.5 65.0h.01M350.7 68.6h.01M344.1 69.5h.01M346.5 55.1h.01M343.4 61.8h.01M338.9 74.7h.01M346.0 66.9h.01M340.5 62.8h.01M347.5 58.1h.01M347.5 62.2h.01M348.1 55.7h.01M348.8 60.7h.01M342.2 50.3h.01M345.3 60.2h.01M357.7 55.7h.01M353.4 69.0h.01M348.2 63.6h.01M348.7 54.2h.01M353.0 60.5h.01M342.7 62.2h.01M333.0 55.0h.01M340.6 53.7h.01M349.0 70.8h.01M346.3 60.4h.01M347.8 59.5h.01M346.8 64.4h.01M345.1 59.9h.01M346.5 62.5h.01M349.5 54.0h.01M340.8 59.5h.01M348.5 55.2h.01M352.0 69.9h.01M342.6 68.2h.01M336.1 61.6h.01M338.4 67.9h.01M350.2 64.9h.01M343.3 56.0h.01M348.1 59.3h.01M349.4 53.4h.01M348.1 64.8h.01M335.2 55.1h.01M342.7 58.8h.01M337.8 62.1h.01M340.6 61.6h.01M337.2 55.6h.01M349.4 52.7h.01M345.8 69.8h.01M349.9 54.8h.01M356.7 58.9h.01M350.5 67.1h.01M344.5 65.4h.01M332.7 62.4h.01M346.8 60.0h.01M346.6 67.7h.01M350.5 58.5h.01M349.8 68.3h.01M346.5 64.0h.01M334.2 53.4h.01M347.8 53.8h.01M350.0 68.2h.01M341.2 55.6h.01M345.0 63.1h.01M349.9 60.6h.01M346.1 56.5h.01M347.3 57.7h.01M350.7 65.6h.01M338.1 63.7h.01M340.6 67.0h.01M340.9 68.7h.01M351.0 72.4h.01M347.5 62.1h.01M351.7 55.2h.01M345.7 60.1h.01M345.6 53.3h.01M337.8 52.6h.01M352.9 60.0h.01M348.9 61.1h.01M344.7 68.8h.01M334.8 60.6h.01M342.1 56.8h.01M338.1 53.5h.01M340.1 67.7h.01M342.6 59.3h.01M345.0 65.1h.01M350.8 62.8h.01M345.9 64.6h.01M342.1 63.0h.01M354.0 58.3h.01M341.8 53.5h.01M346.1 65.2h.01M343.8 60.0h.01M351.5 62.0h.01M349.2 59.8h.01M352.1 66.7h.01M345.2 58.6h.01M358.1 56.1h.01M341.3 48.4h.01M349.2 62.2h.01M345.5 53.6h.01M346.0 57.6h.01M340.3 60.6h.01M347.4 61.1h.01M343.5 65.8h.01M347.1 59.9h.01M348.7 63.5h.01M350.3 66.3h.01M349.5 58.7h.01M352.3 67.3h.01M343.4 68.6h.01M346.4 56.5h.01M345.8 55.0h.01M351.4 55.2h.01M353.0 57.3h.01M345.4 68.8h.01M347.7 53.1h.01M345.4 52.2h.01M349.2 56.5h.01M345.6 61.3h.01M338.8 63.7h.01M354.5 57.1h.01M343.3 64.0h.01M351.8 57.3h.01M347.0 63.9h.01M351.0 57.6h.01M357.7 72.9h.01M339.6 57.8h.01M347.8 58.6h.01M343.6 62.0h.01M342.6 58.8h.01M347.1 59.9h.01M347.8 67.6h.01M351.4 62.6h.01M355.9 60.0h.01M350.4 71.7h.01M347.1 66.4h.01M343.9 59.1h.01M347.1 64.7h.01M347.9 65.7h.01M347.7 61.7h.01M343.3 61.6h.01M346.4 62.1h.01M341.1 68.9h.01M351.4 63.4h.01M344.0 68.0h.01M345.1 60.9h.01M349.0 59.3h.01M346.9 59.6h.01M349.1 64.5h.01M349.6 64.5h.01M347.8 64.3h.01M350.0 57.2h.01M340.8 62.6h.01M347.0 61.0h.01M353.3 64.7h.01M352.2 62.8h.01M339.9 55.1h.01M351.4 62.5h.01M344.1 69.1h.01M354.4 64.4h.01M352.3 60.7h.01M341.9 53.6h.01M351.4 54.2h.01M344.5 62.7h.01M349.0 52.5h.01M345.2 58.0h.01M353.1 61.3h.01M343.3 71.3h.01M347.1 66.5h.01M347.8 61.5h.01M349.8 58.5h.01M339.9 58.9h.01M349.3 60.3h.01M351.3 66.1h.01M347.3 68.1h.01M348.1 64.0h.01M345.1 61.8h.01M346.0 67.8h.01M353.7 68.0h.01M347.5 61.7h.01M347.5 59.4h.01M346.3 60.6h.01M346.2 50.0h.01M346.3 65.7h.01M341.4 71.5h.01M347.0 59.4h.01M352.9 57.4h.01M358.9 58.6h.01M350.7 69.8h.01M349.6 63.0h.01M343.1 61.6h.01M347.4 67.5h.01M336.1 65.5h.01M341.2 59.1h.01M345.9 59.1h.01M349.2 53.8h.01M348.6 57.1h.01M344.7 61.9h.01M339.8 64.5h.01M356.2 58.9h.01M342.2 70.2h.01M354.1 51.7h.01M344.7 58.1h.01M347.1 61.8h.01M341.7 60.0h.01M351.5 57.4h.01M347.4 65.6h.01M354.3 64.5h.01M347.5 57.4h.01M347.5 69.3h.01" stroke="#000" stroke-opacity="0.58" stroke-width="0.95" stroke-linecap="square" fill="none"/>
<path d="M350.5 73.4h.01M342.9 69.6h.01M344.7 56.7h.01M341.6 73.1h.01M351.5 61.2h.01M344.6 69.7h.01M343.1 72.6h.01M349.3 57.9h.01M345.2 53.6h.01M338.0 58.4h.01M342.7 59.6h.01M340.6 56.9h.01M349.4 51.2h.01M326.0 77.5h.01M347.6 64.4h.01M356.3 72.6h.01M358.6 71.0h.01M353.1 67.0h.01M345.7 61.7h.01M317.3 77.1h.01M345.8 54.1h.01M356.3 56.6h.01M349.9 55.3h.01M337.3 72.5h.01M347.9 49.2h.01M352.2 70.6h.01M344.4 68.9h.01M357.5 73.0h.01M352.0 69.5h.01M360.2 64.7h.01M344.6 60.4h.01M373.3 54.0h.01M347.0 46.7h.01M346.5 61.2h.01M346.1 69.5h.01M359.0 64.7h.01M340.2 58.4h.01M346.9 56.4h.01M346.2 67.4h.01M348.5 80.5h.01M333.1 63.9h.01M355.5 53.2h.01M332.7 81.0h.01M354.7 67.5h.01M356.7 54.0h.01M337.3 76.4h.01M347.7 48.6h.01M345.7 76.5h.01M337.9 48.7h.01M327.5 61.3h.01M345.9 56.9h.01M342.0 60.2h.01M341.4 57.6h.01M354.8 62.9h.01M351.0 46.4h.01M339.1 71.6h.01M347.9 71.7h.01M334.6 68.3h.01M342.0 62.7h.01M340.9 54.3h.01M337.9 61.5h.01M355.3 53.3h.01M341.7 54.0h.01M339.7 68.5h.01M343.1 54.3h.01M352.4 65.7h.01M349.5 63.9h.01M341.8 69.8h.01M341.5 64.6h.01M348.0 72.7h.01M345.3 69.8h.01M332.6 63.8h.01M348.3 63.6h.01M329.9 69.1h.01M341.5 56.7h.01M359.6 60.7h.01M354.5 47.6h.01M352.4 64.4h.01M349.2 54.3h.01M349.6 61.0h.01M357.9 58.2h.01M333.4 71.9h.01M337.8 60.8h.01M353.0 77.4h.01M351.4 69.0h.01M348.3 63.8h.01M346.3 65.6h.01M339.3 64.6h.01M356.4 64.1h.01M345.6 69.4h.01M339.6 60.9h.01M365.5 70.0h.01M353.2 61.8h.01M340.9 52.9h.01M347.1 74.2h.01M346.3 70.2h.01M344.5 63.8h.01M350.1 88.6h.01M348.0 55.0h.01M354.6 62.8h.01M351.5 56.6h.01M354.3 56.9h.01M350.2 59.5h.01M340.8 68.1h.01M350.4 45.3h.01M352.8 70.0h.01M348.5 65.9h.01M349.3 65.6h.01M344.1 72.1h.01M357.2 55.6h.01M347.5 55.0h.01M343.2 71.3h.01M347.2 64.8h.01M343.9 83.4h.01M356.6 66.4h.01M348.6 78.2h.01M356.9 65.6h.01M345.5 53.1h.01M358.1 77.8h.01M366.3 65.5h.01M354.3 46.0h.01M352.4 56.5h.01M340.3 55.8h.01M339.8 58.5h.01M351.5 56.9h.01M344.0 61.7h.01M363.5 69.7h.01M341.9 69.8h.01M360.6 61.7h.01M353.0 72.3h.01M335.5 64.3h.01M346.0 70.2h.01M357.8 58.9h.01M334.6 58.7h.01M347.1 57.3h.01M349.0 52.9h.01M351.3 69.4h.01M363.4 62.0h.01M355.2 56.9h.01M341.4 56.2h.01M346.0 51.9h.01M332.4 82.3h.01M344.6 63.0h.01M348.5 59.3h.01M345.3 72.7h.01M349.2 72.5h.01M337.3 67.1h.01M339.5 51.8h.01M352.9 65.1h.01M352.7 68.4h.01M331.0 67.7h.01M362.4 64.5h.01M354.8 75.3h.01M361.4 41.6h.01M344.4 61.6h.01M344.9 72.4h.01M336.8 41.9h.01M349.2 60.7h.01M355.5 72.5h.01M350.0 74.5h.01M336.4 62.3h.01M336.1 79.1h.01M344.8 71.2h.01M350.7 69.3h.01M355.2 72.5h.01M353.3 63.9h.01M352.9 46.6h.01M339.6 75.4h.01M351.5 50.9h.01M336.7 52.6h.01M343.8 70.3h.01M346.8 69.5h.01M336.5 62.1h.01M348.3 66.5h.01M352.8 64.0h.01M353.6 73.4h.01M351.0 52.7h.01M341.5 55.6h.01M359.6 69.7h.01M347.5 57.9h.01M342.2 75.7h.01M345.6 57.8h.01M340.6 68.8h.01M331.9 58.3h.01M352.0 70.0h.01M351.7 60.4h.01M353.6 77.2h.01M340.1 55.8h.01M344.1 63.8h.01M342.8 57.5h.01M328.8 70.5h.01M338.5 63.2h.01M342.8 68.9h.01M337.0 53.4h.01M347.6 63.6h.01M343.0 66.3h.01M342.9 59.9h.01M337.4 62.7h.01M354.4 61.7h.01M346.4 71.1h.01M343.6 57.4h.01M347.7 77.2h.01M343.8 62.4h.01M349.5 59.1h.01M343.9 73.8h.01M333.1 67.1h.01M354.4 73.5h.01M348.8 67.0h.01M342.4 48.2h.01M348.7 64.5h.01M317.4 138.0h.01M318.8 147.6h.01M290.0 153.9h.01M301.2 130.9h.01M282.1 136.0h.01M285.5 163.1h.01M282.2 139.8h.01M304.9 162.9h.01M259.5 142.0h.01M269.6 154.7h.01M301.8 149.9h.01M259.5 143.5h.01M292.6 153.6h.01M321.7 162.6h.01M267.8 143.4h.01M279.7 122.4h.01M282.6 150.4h.01M292.4 142.2h.01M292.8 138.2h.01M286.1 148.7h.01M269.0 178.8h.01M295.1 168.2h.01M309.7 156.3h.01M279.1 175.6h.01M297.3 161.3h.01M272.8 149.8h.01M274.1 174.7h.01M260.5 146.2h.01M309.2 160.0h.01M318.8 158.5h.01M302.3 157.6h.01M270.4 159.0h.01M292.3 159.7h.01M285.8 144.7h.01M273.1 181.0h.01M293.3 162.0h.01M277.8 156.6h.01M294.2 169.5h.01M281.2 153.6h.01M282.0 164.7h.01M263.5 162.9h.01M296.6 133.4h.01M277.6 168.1h.01M297.2 161.5h.01M330.0 151.8h.01M275.6 168.6h.01M282.8 169.9h.01M284.6 141.0h.01M336.5 150.9h.01M281.9 144.7h.01M322.9 169.6h.01M305.3 149.0h.01M281.0 164.4h.01M288.2 145.9h.01M271.7 152.8h.01M300.3 140.4h.01M274.1 160.3h.01M289.5 156.9h.01M280.5 158.1h.01M279.4 161.2h.01M268.7 132.3h.01M291.8 150.8h.01M297.1 128.3h.01M301.6 139.1h.01M293.1 125.8h.01M308.9 160.9h.01M306.2 124.9h.01M269.5 140.8h.01M266.8 166.3h.01M268.3 162.8h.01M295.4 132.5h.01M309.4 160.0h.01M265.7 154.2h.01M294.7 152.5h.01M282.3 141.4h.01M277.1 121.5h.01M271.7 145.3h.01M279.1 170.9h.01M262.6 169.7h.01M279.8 156.6h.01M320.1 168.1h.01M259.3 164.8h.01M274.3 159.7h.01M267.1 169.7h.01M263.8 149.5h.01M264.0 153.2h.01M287.8 146.6h.01M280.2 157.9h.01M292.4 143.6h.01M282.3 149.5h.01M282.0 145.7h.01M273.7 165.5h.01M306.7 141.5h.01M260.0 126.0h.01M270.5 162.6h.01M300.5 160.2h.01M284.0 147.5h.01M269.6 156.7h.01M308.5 142.1h.01M295.1 156.4h.01M264.7 153.8h.01M274.3 141.5h.01M282.2 163.5h.01M270.2 151.3h.01M272.1 154.7h.01M288.1 171.3h.01M306.2 134.5h.01M316.5 140.3h.01M281.2 156.6h.01M310.7 133.2h.01M291.4 158.8h.01M277.4 179.5h.01M281.4 161.2h.01M291.6 150.7h.01M297.0 119.3h.01M268.4 160.7h.01M295.5 161.7h.01M282.7 141.9h.01M300.8 169.0h.01M284.5 142.8h.01M276.9 138.0h.01M268.2 160.5h.01M263.4 138.8h.01M303.2 141.0h.01M293.4 157.0h.01M285.9 155.3h.01M302.1 166.9h.01M272.0 142.4h.01M286.9 151.2h.01M309.8 137.3h.01M270.1 132.8h.01M286.4 147.5h.01M265.2 157.3h.01M318.7 132.1h.01M307.5 141.6h.01M284.7 163.3h.01M278.3 151.8h.01M323.4 160.2h.01M277.6 170.5h.01M292.3 150.1h.01M278.3 134.1h.01M273.9 128.3h.01M292.2 130.9h.01M291.1 167.0h.01M313.1 140.0h.01M276.4 160.9h.01M299.5 178.3h.01M307.5 125.5h.01M263.6 172.6h.01M261.1 155.6h.01M300.6 167.6h.01M277.8 178.2h.01M311.6 155.9h.01M303.1 143.2h.01M297.3 142.9h.01M285.3 159.3h.01M285.2 143.8h.01M299.6 138.1h.01M298.8 132.6h.01M259.2 145.4h.01M276.5 130.9h.01M291.5 158.6h.01M260.0 168.0h.01M272.3 163.7h.01M269.7 151.2h.01M284.6 153.2h.01M278.7 172.1h.01M267.6 152.2h.01M302.1 161.3h.01M280.0 132.7h.01M283.1 148.1h.01M292.9 155.0h.01M272.6 135.7h.01M279.1 151.9h.01M292.7 158.3h.01M279.2 158.4h.01M312.5 139.7h.01M314.4 162.7h.01M269.4 135.1h.01M274.5 156.7h.01M286.1 142.3h.01M279.8 160.7h.01M284.2 159.6h.01M277.5 150.5h.01M310.1 122.7h.01M274.5 156.5h.01M271.7 141.5h.01M269.3 141.2h.01M285.3 151.9h.01M294.8 146.0h.01M289.3 143.5h.01M277.0 147.0h.01M265.5 161.2h.01M271.9 166.0h.01M313.4 161.5h.01M285.0 133.2h.01M277.5 138.0h.01M278.7 151.4h.01M286.8 159.2h.01M287.2 138.8h.01M266.6 157.3h.01M294.8 161.4h.01M270.7 159.0h.01M293.9 152.5h.01M285.7 147.2h.01M276.5 136.4h.01M287.0 149.9h.01M304.6 155.7h.01M289.4 155.7h.01M293.6 179.2h.01M301.6 168.1h.01M267.8 133.2h.01M266.9 152.8h.01M271.3 144.6h.01M288.3 151.9h.01M295.1 145.0h.01M293.0 126.5h.01M283.5 152.8h.01M304.1 168.6h.01M267.9 176.4h.01M273.4 129.2h.01M284.8 152.2h.01M320.5 170.9h.01M279.8 129.7h.01M311.8 160.1h.01M276.6 137.0h.01M285.5 151.7h.01M264.9 173.4h.01M266.5 136.1h.01M319.7 149.9h.01M302.5 163.6h.01M296.2 159.8h.01M304.0 139.6h.01M279.6 144.5h.01M306.4 141.0h.01M277.6 136.3h.01M281.2 175.3h.01M264.1 148.3h.01M290.8 140.0h.01M290.5 165.9h.01M319.8 158.7h.01M311.2 163.6h.01M284.5 154.2h.01M279.5 130.8h.01M263.2 148.7h.01M285.3 157.9h.01M269.3 162.1h.01M276.5 160.6h.01M266.6 141.4h.01M305.1 145.8h.01M274.0 145.9h.01M293.2 166.7h.01M284.1 154.5h.01M278.9 154.8h.01M289.7 127.8h.01M273.6 146.7h.01M279.4 135.7h.01M267.2 164.2h.01M272.0 133.8h.01M291.8 162.6h.01M304.2 142.7h.01M290.6 149.3h.01M278.3 146.4h.01M291.9 145.4h.01M294.5 143.4h.01M279.1 142.4h.01M272.6 171.9h.01M260.4 161.7h.01M288.3 147.3h.01M272.1 160.8h.01M269.3 151.2h.01M287.2 146.7h.01M270.2 142.8h.01M269.7 164.7h.01M259.6 132.7h.01M292.4 137.4h.01M270.8 154.0h.01M296.1 146.7h.01M297.4 157.8h.01M285.8 140.0h.01M303.3 146.1h.01M275.7 145.4h.01M289.7 154.0h.01M321.0 144.3h.01M316.8 126.6h.01M288.5 167.8h.01M287.6 178.5h.01M311.4 157.1h.01M301.4 157.9h.01M303.1 166.5h.01M261.5 155.0h.01M287.7 155.0h.01M290.9 162.4h.01M279.9 165.7h.01M262.3 147.8h.01M273.4 126.1h.01M294.7 154.7h.01M271.0 143.2h.01M308.8 162.4h.01M297.2 143.8h.01M287.3 131.6h.01M268.6 173.1h.01M317.5 149.3h.01M285.6 141.5h.01M265.4 177.4h.01M274.6 155.0h.01M262.7 165.3h.01M289.3 162.6h.01M265.8 138.1h.01M283.6 144.6h.01M271.5 150.9h.01M320.1 166.6h.01M311.8 146.4h.01M277.8 153.4h.01M315.7 157.5h.01M264.1 136.9h.01M270.0 135.3h.01M271.7 134.1h.01M282.9 159.8h.01M263.2 157.9h.01M314.3 158.7h.01M292.0 144.4h.01M299.8 164.3h.01M308.2 157.6h.01M262.9 149.1h.01M295.6 157.3h.01M278.1 178.1h.01M285.7 157.6h.01M270.5 131.2h.01M308.5 165.2h.01M296.9 150.9h.01M259.7 163.9h.01M295.9 158.8h.01M272.4 168.8h.01M264.5 123.3h.01M290.3 135.5h.01M296.1 161.9h.01M275.0 154.7h.01M296.8 163.5h.01M297.7 141.0h.01M318.4 149.9h.01M328.4 147.2h.01M324.4 161.6h.01M297.4 150.6h.01M284.1 161.3h.01M279.6 167.1h.01M301.6 138.2h.01M271.4 163.7h.01M297.1 145.0h.01M295.6 154.9h.01M302.8 168.0h.01M286.7 144.3h.01M298.2 144.4h.01M296.1 133.9h.01M298.1 146.7h.01M280.0 148.5h.01M296.8 163.0h.01M307.3 146.6h.01M285.0 157.2h.01M314.2 160.2h.01M319.9 145.9h.01M296.4 158.7h.01M295.0 163.0h.01M293.5 163.7h.01M286.7 134.4h.01M307.0 140.9h.01M318.9 153.0h.01M295.4 153.2h.01M288.1 150.8h.01M292.7 142.7h.01M299.8 152.8h.01M313.8 162.6h.01M324.2 178.6h.01M308.6 135.5h.01M287.8 154.5h.01M297.2 158.9h.01M294.3 159.9h.01M309.7 130.9h.01M335.3 125.5h.01M299.4 167.1h.01M298.0 155.4h.01M304.9 145.6h.01M348.5 125.0h.01M346.9 133.7h.01M334.4 139.8h.01M341.2 139.8h.01M343.0 139.4h.01M336.9 147.1h.01M333.8 151.3h.01M348.8 154.4h.01M347.9 155.8h.01M326.7 161.9h.01M351.3 161.2h.01M351.3 164.4h.01M332.5 168.3h.01M335.4 168.3h.01M338.3 167.3h.01M336.9 172.1h.01M352.7 173.1h.01M343.0 177.5h.01M346.0 178.5h.01M366.2 178.5h.01M282.5 57.5h.01M289.5 58.8h.01M300.0 62.5h.01M317.5 63.8h.01M261.3 41.3h.01M265.0 82.5h.01M296.0 47.0h.01M310.0 88.0h.01" stroke="#000" stroke-opacity="0.42" stroke-width="0.95" stroke-linecap="square" fill="none"/>
<path d="M373.3 76.1h.01M382.3 71.9h.01M378.9 70.2h.01M373.0 64.1h.01M372.6 66.1h.01M372.4 62.1h.01M376.3 61.3h.01M373.6 58.5h.01M371.5 70.6h.01M375.0 77.2h.01M366.3 68.5h.01M370.5 69.4h.01M376.7 66.0h.01M367.0 65.9h.01M375.3 65.1h.01M363.7 66.8h.01M376.5 77.5h.01M368.6 65.7h.01M374.7 74.5h.01M371.4 69.5h.01M374.9 61.1h.01M377.7 63.7h.01M363.2 76.0h.01M371.7 73.4h.01M364.9 70.8h.01M372.8 70.3h.01M372.2 68.8h.01M371.3 63.0h.01M380.1 66.5h.01M366.0 70.7h.01M370.4 65.2h.01M385.2 71.3h.01M363.7 66.5h.01M369.8 68.7h.01M374.1 71.6h.01M379.6 67.0h.01M370.2 75.0h.01M376.7 67.9h.01M369.3 75.4h.01M374.4 75.4h.01M376.4 72.1h.01M372.5 70.2h.01M371.7 62.7h.01M373.9 73.9h.01M374.7 65.8h.01M370.8 75.4h.01M376.4 64.5h.01M365.3 70.5h.01M365.2 79.5h.01M371.1 73.0h.01M363.4 70.0h.01M372.4 61.2h.01M379.6 69.3h.01M373.5 67.7h.01M372.5 72.8h.01" stroke="#000" stroke-opacity="0.45" stroke-width="0.95" stroke-linecap="square" fill="none"/>
<path d="M283.2 160.1h.01M262.1 154.8h.01M265.6 158.4h.01M271.1 133.5h.01M296.0 151.7h.01M275.3 155.1h.01M277.0 162.9h.01M296.2 149.9h.01M285.9 163.2h.01M265.4 163.3h.01M288.8 153.2h.01M275.4 142.8h.01M289.7 146.7h.01M280.5 138.6h.01M275.5 134.4h.01M269.8 163.6h.01M266.3 141.4h.01M270.3 148.5h.01M265.9 156.0h.01M271.9 162.5h.01M282.7 156.8h.01M281.6 159.4h.01M258.8 178.7h.01M259.3 171.1h.01M269.4 128.3h.01M263.0 129.4h.01M280.5 150.2h.01M307.0 155.5h.01M270.3 170.3h.01M309.9 144.4h.01M269.3 153.3h.01M264.7 144.6h.01M295.5 167.5h.01M289.9 155.3h.01M291.8 133.3h.01M293.2 135.9h.01M267.9 158.7h.01M265.9 157.0h.01M281.2 166.8h.01M276.9 155.3h.01M275.4 153.0h.01M275.4 153.4h.01M283.8 167.7h.01M281.0 132.0h.01M266.8 161.0h.01M280.0 153.4h.01M272.6 136.5h.01M298.6 136.7h.01M270.0 162.8h.01M279.7 163.1h.01M292.1 140.8h.01M283.7 145.3h.01M279.2 152.8h.01M269.5 155.1h.01M306.4 155.6h.01M259.4 170.0h.01M265.3 149.8h.01M273.0 148.0h.01M273.6 150.2h.01M296.2 159.0h.01M303.5 159.7h.01M272.8 173.5h.01M270.1 171.4h.01M282.4 163.2h.01M287.9 147.8h.01M303.8 147.3h.01M288.6 168.5h.01M281.4 166.2h.01M276.4 163.4h.01M272.4 150.5h.01M276.0 161.0h.01M276.9 176.4h.01M281.0 156.9h.01M279.1 170.0h.01M274.9 166.7h.01M278.8 136.6h.01M280.2 180.7h.01M269.8 167.5h.01M267.2 171.2h.01M267.6 148.1h.01M281.1 159.4h.01M277.5 179.3h.01M289.0 149.2h.01M285.6 158.7h.01M284.3 152.4h.01M275.3 157.4h.01M268.9 155.3h.01M310.3 151.3h.01M273.4 142.6h.01M279.4 151.7h.01M289.1 175.3h.01M262.4 152.9h.01M262.3 140.3h.01M278.9 162.8h.01M273.6 179.4h.01M260.3 154.5h.01M280.4 143.7h.01M277.4 133.1h.01M265.6 154.0h.01M267.1 157.5h.01M282.5 170.8h.01M284.2 147.5h.01M269.8 161.0h.01M278.4 149.7h.01M268.9 153.8h.01M275.5 159.5h.01M270.7 147.9h.01M276.5 149.3h.01M267.2 153.5h.01M276.5 151.6h.01M282.2 140.2h.01M278.9 162.6h.01M279.7 153.2h.01M270.9 149.5h.01M283.5 161.1h.01M289.5 155.9h.01M281.9 156.7h.01M268.3 127.5h.01M286.3 169.8h.01M285.7 153.2h.01M286.3 167.3h.01M292.7 160.3h.01M290.4 132.8h.01M289.6 165.5h.01M267.0 154.7h.01M285.1 170.6h.01M288.6 170.5h.01M279.4 155.3h.01M285.1 146.0h.01M267.9 163.1h.01M277.0 155.3h.01M291.8 123.6h.01M276.0 164.7h.01M276.2 173.1h.01M265.1 152.3h.01M272.5 148.8h.01M265.5 153.1h.01M268.0 142.3h.01M284.8 154.2h.01M264.3 153.9h.01M284.6 165.2h.01M279.4 170.7h.01M276.5 145.6h.01M271.7 157.0h.01M286.9 147.3h.01M275.2 161.7h.01M297.5 135.8h.01M290.5 158.9h.01M272.4 160.4h.01M268.5 134.9h.01M272.7 149.1h.01M276.6 148.9h.01M266.6 163.6h.01M281.1 160.4h.01M263.3 172.0h.01M282.6 168.5h.01M273.6 149.9h.01M263.5 172.8h.01M282.6 139.5h.01M278.1 154.0h.01M279.9 166.7h.01M290.3 159.8h.01M266.7 142.9h.01M268.8 145.6h.01M283.3 147.1h.01M276.6 163.8h.01M272.7 179.2h.01M268.2 156.1h.01M276.8 152.8h.01M268.8 156.5h.01M267.8 156.3h.01M270.8 139.5h.01M292.4 155.1h.01M269.9 161.1h.01M286.9 175.9h.01M282.7 163.7h.01M267.7 179.4h.01M272.7 155.9h.01M281.2 165.4h.01M279.4 154.0h.01M279.8 175.0h.01M291.5 163.5h.01M285.5 143.2h.01M274.3 139.9h.01M300.4 132.7h.01M264.2 144.0h.01M273.2 132.5h.01M265.7 165.0h.01M260.3 167.6h.01M283.1 144.8h.01M278.2 146.2h.01M274.5 155.6h.01M276.6 177.4h.01M285.6 170.6h.01M280.6 124.0h.01M275.6 156.9h.01M264.9 163.6h.01M280.5 130.4h.01M289.8 160.3h.01M277.9 145.1h.01M290.7 122.1h.01M271.8 170.0h.01M294.7 160.4h.01M297.2 148.6h.01M267.5 180.4h.01M293.2 155.3h.01M289.5 159.8h.01M278.3 161.4h.01M293.4 139.1h.01M272.6 153.4h.01M271.2 154.4h.01M263.3 149.4h.01M286.8 151.8h.01M278.3 163.0h.01M297.6 147.2h.01M272.1 165.7h.01M285.3 140.1h.01M269.4 148.3h.01M278.7 154.8h.01M288.6 176.3h.01M291.5 147.5h.01M272.6 143.8h.01M269.7 167.8h.01M283.7 128.2h.01M278.7 168.8h.01M262.0 162.6h.01M299.5 130.9h.01M271.8 140.1h.01M282.0 157.9h.01M294.2 157.3h.01M276.3 153.4h.01M291.5 142.2h.01M275.9 146.2h.01M274.4 170.0h.01M272.1 168.5h.01M270.5 141.1h.01M278.6 171.0h.01M276.8 157.3h.01M269.4 169.6h.01M286.6 145.8h.01M287.4 169.9h.01M291.6 159.5h.01M291.7 167.9h.01M280.2 133.4h.01M268.3 173.4h.01M271.0 154.2h.01M277.0 146.6h.01M298.3 147.9h.01M295.8 156.3h.01M275.6 156.2h.01M264.4 157.9h.01M285.4 156.2h.01M279.9 145.4h.01M286.3 145.6h.01M273.3 144.8h.01M295.3 157.1h.01M275.4 170.5h.01M274.8 139.9h.01M281.4 161.9h.01M290.1 131.4h.01M271.1 169.9h.01M285.1 153.3h.01M259.7 154.2h.01M270.8 141.6h.01M281.7 143.4h.01M280.6 165.7h.01M274.2 167.4h.01M294.4 171.5h.01M268.5 139.6h.01M268.7 137.1h.01M270.9 158.2h.01M280.0 161.0h.01M295.2 151.0h.01M269.1 142.2h.01M266.8 161.3h.01M295.2 159.8h.01M274.8 157.3h.01M291.4 149.7h.01M287.2 155.9h.01M273.5 168.2h.01M290.2 155.1h.01M270.4 139.4h.01M269.6 171.9h.01M281.0 157.9h.01M285.7 156.0h.01M283.2 145.2h.01M293.8 143.8h.01M288.2 123.8h.01M269.3 139.9h.01M285.1 137.9h.01M264.0 163.3h.01M295.8 165.9h.01M303.4 166.6h.01M266.8 128.7h.01M271.8 145.3h.01M267.0 154.8h.01M296.4 168.2h.01M282.8 162.7h.01M271.0 171.9h.01M271.0 160.8h.01M270.8 149.5h.01M287.2 175.3h.01M262.9 160.5h.01M309.9 161.3h.01M284.8 169.3h.01M283.5 164.9h.01M281.4 140.1h.01M284.4 154.3h.01M296.0 135.7h.01M268.0 180.0h.01M276.3 174.3h.01M272.5 168.4h.01M264.2 137.3h.01M277.0 159.6h.01M275.6 175.2h.01M272.5 166.7h.01M272.6 144.5h.01M287.3 146.5h.01M289.2 159.1h.01M271.3 138.8h.01M268.0 159.9h.01M298.7 140.4h.01M278.2 168.4h.01M284.2 155.3h.01M272.9 164.7h.01M277.2 148.4h.01M258.8 162.1h.01M284.6 161.0h.01M270.2 168.1h.01M286.0 151.9h.01M264.6 159.8h.01M289.8 129.8h.01M284.4 150.6h.01M277.3 158.3h.01M289.8 157.6h.01M265.0 161.7h.01M284.2 152.8h.01M295.9 150.9h.01M290.1 169.3h.01M282.1 158.4h.01M275.7 149.2h.01M273.0 143.7h.01M274.2 145.6h.01M275.2 151.4h.01M291.6 138.0h.01M268.6 168.7h.01M291.8 164.8h.01M281.0 157.1h.01M291.9 143.0h.01M275.6 151.3h.01M262.4 162.3h.01M296.7 164.6h.01M274.2 151.5h.01M267.7 153.3h.01M283.2 139.6h.01M288.5 136.9h.01M271.7 155.1h.01M288.6 154.4h.01M264.7 137.7h.01M280.4 158.7h.01M283.3 135.3h.01M283.9 164.0h.01M268.6 144.0h.01M286.4 143.4h.01M286.0 174.7h.01M271.5 160.0h.01M284.3 162.4h.01M283.5 160.1h.01M273.7 154.3h.01M286.4 172.4h.01M286.9 174.0h.01M288.3 156.4h.01M287.2 167.5h.01M260.8 156.9h.01M259.3 164.7h.01M292.8 161.1h.01M288.3 159.1h.01M285.7 150.0h.01M307.9 168.2h.01M293.9 156.4h.01M287.9 168.8h.01M281.5 149.3h.01M293.5 145.9h.01M284.2 160.6h.01M264.1 168.9h.01M283.7 149.0h.01M289.4 142.4h.01M292.3 158.4h.01M276.2 170.9h.01M279.9 148.8h.01M282.4 157.0h.01M261.5 150.3h.01M276.8 174.9h.01M287.7 144.5h.01M280.5 156.1h.01M293.3 167.9h.01M279.6 153.5h.01M263.0 134.0h.01M280.6 147.1h.01M287.1 177.1h.01M278.3 158.1h.01M295.5 157.0h.01M276.1 148.0h.01M287.6 148.6h.01M279.0 164.3h.01M268.2 137.7h.01M281.6 151.3h.01M272.4 146.8h.01M292.8 164.3h.01M281.2 159.6h.01M282.6 154.3h.01M268.1 156.2h.01M282.6 156.8h.01M272.7 170.0h.01M263.0 147.7h.01M268.0 148.6h.01M284.3 154.3h.01M269.5 157.2h.01M291.7 153.0h.01M259.7 155.0h.01M295.3 153.6h.01M285.2 156.7h.01M281.5 157.9h.01M305.4 161.8h.01M263.7 166.2h.01M278.5 163.6h.01M283.6 154.5h.01M281.6 151.7h.01M267.2 156.8h.01M265.2 148.2h.01M294.5 173.0h.01M281.4 164.2h.01M286.4 157.8h.01M268.3 147.8h.01M298.6 148.4h.01M273.2 163.5h.01M270.2 154.8h.01M268.9 169.1h.01M291.2 142.6h.01M267.7 156.7h.01M267.7 137.6h.01M271.8 158.2h.01M296.5 154.6h.01M276.9 150.2h.01M266.1 164.4h.01M285.5 147.3h.01M294.0 165.5h.01M287.8 142.8h.01M276.7 144.1h.01M276.7 160.7h.01M294.6 168.4h.01M284.9 140.2h.01M266.3 150.7h.01M280.4 150.0h.01M280.3 162.0h.01M291.7 153.4h.01M276.5 144.7h.01M286.1 134.8h.01M297.5 153.1h.01M264.6 180.4h.01M292.9 151.7h.01M269.1 168.4h.01M276.7 160.7h.01M275.4 166.6h.01M265.4 156.7h.01M293.2 147.0h.01M266.9 159.4h.01M283.2 137.9h.01M269.7 161.0h.01M278.1 136.9h.01M275.5 160.8h.01M280.3 157.6h.01M274.8 131.5h.01M276.6 153.7h.01M274.2 162.1h.01M291.4 164.9h.01M291.9 136.0h.01M282.1 146.2h.01M278.1 144.7h.01M268.2 172.6h.01M294.1 157.1h.01M273.9 167.9h.01M280.0 163.3h.01M291.0 151.9h.01M282.8 172.6h.01M288.5 145.1h.01M261.4 143.2h.01M288.2 145.7h.01M273.2 152.2h.01M279.7 170.6h.01M280.1 160.9h.01M277.8 168.1h.01M266.0 132.3h.01M276.8 155.6h.01M281.6 159.1h.01M281.5 158.0h.01M279.5 169.5h.01M275.3 147.9h.01M263.7 165.9h.01M292.4 166.9h.01M280.5 156.0h.01M281.2 139.7h.01M271.7 148.8h.01M287.2 168.2h.01M285.5 129.5h.01M283.6 165.9h.01M275.0 159.4h.01M264.2 157.1h.01M277.0 162.5h.01M286.9 156.6h.01M277.1 145.8h.01M278.3 163.4h.01M279.9 154.0h.01M295.1 143.6h.01M274.8 170.3h.01M292.1 167.6h.01M301.9 175.1h.01M265.7 164.2h.01M302.0 149.0h.01M285.6 139.4h.01M269.5 165.9h.01M279.3 144.1h.01M293.2 148.7h.01M284.6 151.9h.01M265.9 155.4h.01M274.9 170.3h.01M268.5 155.1h.01M278.1 170.0h.01M272.5 161.0h.01M290.5 159.2h.01M276.4 149.1h.01M283.8 150.9h.01M281.7 157.4h.01M281.6 147.5h.01M294.6 162.3h.01M279.6 166.6h.01M270.9 150.5h.01M287.6 146.3h.01M268.1 141.3h.01M261.6 148.8h.01M277.0 162.2h.01M259.1 161.7h.01M266.7 157.1h.01M295.8 140.3h.01M295.6 148.9h.01M273.9 143.4h.01M281.0 179.7h.01M262.7 127.1h.01M283.8 174.9h.01M259.8 164.2h.01M272.0 148.2h.01M281.4 147.3h.01M277.4 137.4h.01M278.2 130.0h.01M293.5 174.4h.01M279.5 132.6h.01M293.4 151.4h.01M281.4 140.7h.01M291.1 149.9h.01M277.0 154.5h.01M274.3 158.4h.01M292.4 155.8h.01M283.6 157.5h.01M286.5 153.2h.01M269.8 172.3h.01M300.3 160.5h.01M274.8 155.8h.01M286.9 161.2h.01M272.0 142.2h.01M277.5 159.4h.01M277.5 145.7h.01M268.0 158.8h.01M286.0 130.1h.01M276.8 172.7h.01M270.6 136.2h.01M261.8 158.3h.01M280.4 163.9h.01M264.0 150.7h.01M286.5 144.8h.01M288.5 160.4h.01M290.1 174.7h.01M277.0 173.6h.01M277.1 141.3h.01M286.8 146.8h.01M284.9 172.9h.01M287.0 156.9h.01M292.3 139.0h.01M288.5 167.4h.01M278.0 160.4h.01M277.6 132.0h.01M265.6 161.2h.01M273.3 164.4h.01M294.9 165.0h.01M277.4 144.7h.01M281.7 169.6h.01M301.5 167.5h.01M279.6 139.6h.01M274.5 160.2h.01M287.2 170.6h.01M268.9 157.7h.01M271.6 152.9h.01M286.1 139.8h.01M286.0 163.6h.01M288.6 164.9h.01M271.9 157.7h.01M296.1 153.0h.01M268.2 167.3h.01M276.0 150.8h.01M264.3 153.3h.01M275.7 166.6h.01M269.8 140.4h.01M284.8 150.1h.01M264.5 174.4h.01M282.9 157.7h.01M287.1 158.9h.01M284.7 165.1h.01M270.7 155.6h.01M264.0 145.7h.01M276.4 161.3h.01M290.6 153.7h.01M283.7 157.9h.01M277.2 141.8h.01M295.8 147.1h.01M295.1 165.3h.01M318.9 144.9h.01M288.1 140.8h.01M296.3 144.5h.01M271.1 160.0h.01M283.7 155.5h.01M275.3 158.1h.01M287.2 165.1h.01M284.5 169.7h.01M267.9 153.4h.01M285.8 125.1h.01M281.0 151.1h.01M272.0 165.3h.01M293.4 145.0h.01M266.9 169.3h.01M283.6 154.1h.01M284.0 154.0h.01M282.5 155.2h.01M285.1 146.8h.01M289.3 142.3h.01M306.2 165.2h.01M293.1 180.7h.01M289.6 145.0h.01M283.1 157.5h.01M279.8 163.3h.01M279.0 146.5h.01M274.5 157.1h.01M284.6 145.5h.01M296.6 158.2h.01M274.1 141.4h.01M279.4 143.9h.01M286.2 133.8h.01M260.8 158.8h.01M275.0 170.1h.01M276.3 152.0h.01M262.7 141.7h.01M324.9 149.0h.01M266.4 163.7h.01M303.7 175.8h.01M294.1 160.3h.01M259.9 161.9h.01" stroke="#000" stroke-opacity="0.5" stroke-width="0.95" stroke-linecap="square" fill="none"/>
<text x="261.3" y="35.5" font-size="11" text-anchor="start" textLength="54" lengthAdjust="spacingAndGlyphs" style="stroke-width:0.55px">Lymphoid</text>
<text x="317.8" y="93.5" font-size="11.6" text-anchor="end" textLength="34.2" lengthAdjust="spacingAndGlyphs" style="stroke-width:0.55px">0.47%</text>
<text x="323.8" y="93.5" font-size="11.6" text-anchor="start" textLength="41.6" lengthAdjust="spacingAndGlyphs" style="stroke-width:0.55px">44.82%</text>
<text x="317.8" y="116.4" font-size="11.6" text-anchor="end" textLength="41.2" lengthAdjust="spacingAndGlyphs" style="stroke-width:0.55px">45.78%</text>
<text x="408.0" y="178.10000000000002" font-size="11.4" text-anchor="end" font-style="italic" textLength="29" lengthAdjust="spacingAndGlyphs" style="stroke-width:0.8px">Ezh2</text>
<text x="336.6" y="212.3" font-size="11.2" text-anchor="middle" textLength="23.5" lengthAdjust="spacingAndGlyphs" >GFP</text>
<text transform="translate(236.8,103) rotate(-90)" font-size="14.5" text-anchor="middle" textLength="61.5" lengthAdjust="spacingAndGlyphs" >CD45.1-PE</text>
<rect x="38.3" y="255.7" width="199.7" height="143.5" fill="none" stroke="#1a1a1a" stroke-width="1.3"/>
<line x1="35.699999999999996" y1="399.20" x2="38.3" y2="399.20" stroke="#666" stroke-width="0.8" />
<text x="31.6" y="402.80" font-size="9.7" text-anchor="end" >0</text>
<line x1="35.699999999999996" y1="370.50" x2="38.3" y2="370.50" stroke="#666" stroke-width="0.8" />
<text x="31.6" y="374.10" font-size="9.7" text-anchor="end" >20</text>
<line x1="35.699999999999996" y1="341.80" x2="38.3" y2="341.80" stroke="#666" stroke-width="0.8" />
<text x="31.6" y="345.40" font-size="9.7" text-anchor="end" >40</text>
<line x1="35.699999999999996" y1="313.10" x2="38.3" y2="313.10" stroke="#666" stroke-width="0.8" />
<text x="31.6" y="316.70" font-size="9.7" text-anchor="end" >60</text>
<line x1="35.699999999999996" y1="284.40" x2="38.3" y2="284.40" stroke="#666" stroke-width="0.8" />
<text x="31.6" y="288.00" font-size="9.7" text-anchor="end" >80</text>
<line x1="35.699999999999996" y1="255.70" x2="38.3" y2="255.70" stroke="#666" stroke-width="0.8" />
<text x="31.6" y="259.30" font-size="9.7" text-anchor="end" >100</text>
<text transform="translate(12,325) rotate(-90)" font-size="11.2" text-anchor="middle" textLength="155" lengthAdjust="spacingAndGlyphs" >% CD45.1+GFP+ leukocytes</text>
<text x="120" y="418.0" font-size="11.2" text-anchor="middle" textLength="39.6" lengthAdjust="spacingAndGlyphs" >Control</text>
<text x="195.1" y="418.0" font-size="11.3" text-anchor="middle" font-style="italic" textLength="28.4" lengthAdjust="spacingAndGlyphs" style="stroke-width:0.6px">Ezh2</text>
<path d="M47.40 272.98L51.70 264.81L56.00 272.98Z" fill="none" stroke="#000" stroke-width="1.5" stroke-linejoin="miter"/>
<path d="M47.60 287.20L51.90 282.90L56.20 287.20L51.90 291.50Z" fill="none" stroke="#000" stroke-width="1.5"/>
<circle cx="51.80" cy="305.80" r="4.30" fill="none" stroke="#000" stroke-width="1.5"/>
<text x="61.6" y="273.8" font-size="10.5" text-anchor="start" font-weight="bold" textLength="14.8" lengthAdjust="spacingAndGlyphs" style="stroke-width:0.4px">5:1</text>
<text x="61.6" y="292.5" font-size="10.5" text-anchor="start" font-weight="bold" textLength="14.8" lengthAdjust="spacingAndGlyphs" style="stroke-width:0.4px">2:1</text>
<text x="61.6" y="312.1" font-size="10.5" text-anchor="start" font-weight="bold" textLength="14.8" lengthAdjust="spacingAndGlyphs" style="stroke-width:0.4px">1:1</text>
<path d="M194.30 272.92L198.40 268.82L202.50 272.92L198.40 277.02Z" fill="none" stroke="#777" stroke-width="0.75"/>
<path d="M194.30 283.99L198.40 276.20L202.50 283.99Z" fill="none" stroke="#444" stroke-width="0.75" stroke-linejoin="miter"/>
<path d="M194.30 291.16L198.40 283.38L202.50 291.16Z" fill="none" stroke="#999" stroke-width="0.75" stroke-linejoin="miter"/>
<path d="M194.30 293.01L198.40 288.91L202.50 293.01L198.40 297.11Z" fill="none" stroke="#777" stroke-width="0.75"/>
<path d="M194.30 302.64L198.40 294.86L202.50 302.64Z" fill="none" stroke="#666" stroke-width="0.75" stroke-linejoin="miter"/>
<path d="M194.30 300.19L198.40 296.08L202.50 300.19L198.40 304.29Z" fill="none" stroke="#777" stroke-width="0.75"/>
<circle cx="198.40" cy="308.79" r="4.10" fill="none" stroke="#555" stroke-width="0.75"/>
<path d="M194.30 314.12L198.40 306.34L202.50 314.12Z" fill="none" stroke="#555" stroke-width="0.75" stroke-linejoin="miter"/>
<circle cx="198.40" cy="311.66" r="4.10" fill="none" stroke="#666" stroke-width="0.75"/>
<path d="M194.30 314.53L198.40 310.43L202.50 314.53L198.40 318.63Z" fill="none" stroke="#555" stroke-width="0.75"/>
<circle cx="198.40" cy="315.97" r="4.10" fill="none" stroke="#555" stroke-width="0.75"/>
<path d="M194.30 322.02L198.40 314.23L202.50 322.02Z" fill="none" stroke="#444" stroke-width="0.75" stroke-linejoin="miter"/>
<path d="M194.30 320.27L198.40 316.17L202.50 320.27L198.40 324.38Z" fill="none" stroke="#444" stroke-width="0.75"/>
<circle cx="198.40" cy="321.71" r="4.10" fill="none" stroke="#555" stroke-width="0.75"/>
<path d="M194.30 323.86L198.40 319.76L202.50 323.86L198.40 327.96Z" fill="none" stroke="#444" stroke-width="0.75"/>
<circle cx="198.40" cy="326.01" r="4.10" fill="none" stroke="#555" stroke-width="0.75"/>
<path d="M194.30 331.34L198.40 323.56L202.50 331.34Z" fill="none" stroke="#555" stroke-width="0.75" stroke-linejoin="miter"/>
<path d="M194.30 328.88L198.40 324.78L202.50 328.88L198.40 332.99Z" fill="none" stroke="#555" stroke-width="0.75"/>
<circle cx="198.40" cy="330.32" r="4.10" fill="none" stroke="#666" stroke-width="0.75"/>
<path d="M194.30 335.65L198.40 327.86L202.50 335.65Z" fill="none" stroke="#666" stroke-width="0.75" stroke-linejoin="miter"/>
<path d="M194.30 333.91L198.40 329.81L202.50 333.91L198.40 338.01Z" fill="none" stroke="#666" stroke-width="0.75"/>
<circle cx="198.40" cy="340.37" r="4.10" fill="none" stroke="#888" stroke-width="0.75"/>
<circle cx="118.70" cy="399.49" r="3.90" fill="none" stroke="#222" stroke-width="0.9"/>
<path d="M114.80 402.33L118.70 394.92L122.60 402.33Z" fill="none" stroke="#222" stroke-width="0.9" stroke-linejoin="miter"/>
<path d="M114.80 398.91L118.70 395.01L122.60 398.91L118.70 402.81Z" fill="none" stroke="#222" stroke-width="0.9"/>
<circle cx="118.70" cy="398.05" r="3.90" fill="none" stroke="#222" stroke-width="0.9"/>
<path d="M114.80 400.90L118.70 393.49L122.60 400.90Z" fill="none" stroke="#222" stroke-width="0.9" stroke-linejoin="miter"/>
<path d="M114.80 398.20L118.70 394.30L122.60 398.20L118.70 402.10Z" fill="none" stroke="#222" stroke-width="0.9"/>
<path d="M114.80 403.48L118.70 396.07L122.60 403.48Z" fill="none" stroke="#222" stroke-width="0.9" stroke-linejoin="miter"/>
<circle cx="118.70" cy="398.48" r="3.90" fill="none" stroke="#222" stroke-width="0.9"/>
<path d="M308 396.3V253.9" fill="none" stroke="#5c5c5c" stroke-width="1.2"/>
<path d="M308 253.9H510.3V396.3" fill="none" stroke="#3c3c3c" stroke-width="1.2"/>
<line x1="307.5" y1="396.3" x2="510.8" y2="396.3" stroke="#484848" stroke-width="1.3" />
<line x1="305" y1="396.30" x2="308" y2="396.30" stroke="#888" stroke-width="0.8" />
<text x="300.7" y="399.70" font-size="9.4" text-anchor="end" >0</text>
<line x1="305" y1="367.82" x2="308" y2="367.82" stroke="#888" stroke-width="0.8" />
<text x="300.7" y="371.22" font-size="9.4" text-anchor="end" >20</text>
<line x1="305" y1="339.34" x2="308" y2="339.34" stroke="#888" stroke-width="0.8" />
<text x="300.7" y="342.74" font-size="9.4" text-anchor="end" >40</text>
<line x1="305" y1="310.86" x2="308" y2="310.86" stroke="#888" stroke-width="0.8" />
<text x="300.7" y="314.26" font-size="9.4" text-anchor="end" >60</text>
<line x1="305" y1="282.38" x2="308" y2="282.38" stroke="#888" stroke-width="0.8" />
<text x="300.7" y="285.78" font-size="9.4" text-anchor="end" >80</text>
<line x1="305" y1="253.90" x2="308" y2="253.90" stroke="#888" stroke-width="0.8" />
<text x="300.7" y="257.30" font-size="9.4" text-anchor="end" >100</text>
<line x1="308.00" y1="396.3" x2="308.00" y2="399.3" stroke="#aaa" stroke-width="0.8" />
<text x="308.60" y="414.8" font-size="9.8" text-anchor="middle" >0</text>
<line x1="341.72" y1="396.3" x2="341.72" y2="399.3" stroke="#aaa" stroke-width="0.8" />
<text x="342.32" y="414.8" font-size="9.8" text-anchor="middle" >20</text>
<line x1="375.43" y1="396.3" x2="375.43" y2="399.3" stroke="#aaa" stroke-width="0.8" />
<text x="376.03" y="414.8" font-size="9.8" text-anchor="middle" >40</text>
<line x1="409.15" y1="396.3" x2="409.15" y2="399.3" stroke="#aaa" stroke-width="0.8" />
<text x="409.75" y="414.8" font-size="9.8" text-anchor="middle" >60</text>
<line x1="442.87" y1="396.3" x2="442.87" y2="399.3" stroke="#aaa" stroke-width="0.8" />
<text x="443.47" y="414.8" font-size="9.8" text-anchor="middle" >80</text>
<line x1="476.58" y1="396.3" x2="476.58" y2="399.3" stroke="#aaa" stroke-width="0.8" />
<text x="477.18" y="414.8" font-size="9.8" text-anchor="middle" >100</text>
<line x1="510.30" y1="396.3" x2="510.30" y2="399.3" stroke="#aaa" stroke-width="0.8" />
<text x="510.90" y="414.8" font-size="9.8" text-anchor="middle" >120</text>
<text transform="translate(276.0,327.4) rotate(-90)" font-size="11.2" text-anchor="middle" textLength="54.4" lengthAdjust="spacingAndGlyphs" >% survival</text>
<text x="324.8" y="427.6" font-size="11.2" text-anchor="start" textLength="179.8" lengthAdjust="spacingAndGlyphs" >Days after tertiary transplantation</text>
<path d="M308.00 253.90L346.77 253.90L346.77 265.29L350.15 265.29L350.15 313.00L353.52 313.00L353.52 336.92L356.89 336.92L356.89 348.60L382.18 348.60L382.18 396.30" fill="none" stroke="#111" stroke-width="1.1"/>
<path d="M346.77 253.90L382.18 253.90L382.18 265.29L481.64 265.29L481.64 276.68L496.81 276.68" fill="none" stroke="#222" stroke-width="1.25"/>
<rect x="304.30" y="250.20" width="7.4" height="7.4" fill="#333"/>
<rect x="343.27" y="250.40" width="7" height="7" fill="#000"/>
<rect x="343.27" y="261.79" width="7" height="7" fill="#000"/>
<rect x="346.65" y="261.79" width="7" height="7" fill="#000"/>
<rect x="346.65" y="309.50" width="7" height="7" fill="#000"/>
<rect x="350.02" y="309.50" width="7" height="7" fill="#000"/>
<rect x="350.02" y="333.42" width="7" height="7" fill="#000"/>
<rect x="353.39" y="333.42" width="7" height="7" fill="#000"/>
<rect x="353.39" y="345.10" width="7" height="7" fill="#000"/>
<rect x="378.68" y="345.10" width="7" height="7" fill="#000"/>
<rect x="378.68" y="392.80" width="7" height="7" fill="#000"/>
<circle cx="308.00" cy="253.90" r="2.9" fill="#b2b2b2" stroke="#787878" stroke-width="1"/>
<circle cx="382.18" cy="253.90" r="3.4" fill="#b2b2b2" stroke="#787878" stroke-width="1"/>
<circle cx="382.18" cy="265.29" r="3.4" fill="#b2b2b2" stroke="#787878" stroke-width="1"/>
<circle cx="481.64" cy="265.29" r="3.4" fill="#b2b2b2" stroke="#787878" stroke-width="1"/>
<circle cx="481.64" cy="276.68" r="3.4" fill="#b2b2b2" stroke="#787878" stroke-width="1"/>
<circle cx="496.81" cy="276.68" r="3.4" fill="#b2b2b2" stroke="#787878" stroke-width="1"/>
<rect x="439.70" y="355.90" width="8.8" height="8.8" fill="#000"/>
<text x="453" y="365.3" font-size="11.2" text-anchor="start" textLength="39.4" lengthAdjust="spacingAndGlyphs" >Control</text>
<circle cx="443.9" cy="377.8" r="3.9" fill="#adadad" stroke="#1a1a1a" stroke-width="1.5"/>
<text x="453" y="382" font-size="11.2" text-anchor="start" font-style="italic" textLength="28.3" lengthAdjust="spacingAndGlyphs" style="stroke-width:0.65px">Ezh2</text>
<line x1="36.3" y1="480.8" x2="36.3" y2="629.3" stroke="#c4c4c4" stroke-width="1" />
<path d="M35.8 480.8H237V629.3" fill="none" stroke="#4a4a4a" stroke-width="1.1"/>
<line x1="35.8" y1="629.6999999999999" x2="237.5" y2="629.6999999999999" stroke="#111" stroke-width="1.5" />
<line x1="33.3" y1="630.00" x2="36.3" y2="630.00" stroke="#bbb" stroke-width="0.8" />
<text x="29.7" y="633.60" font-size="9.7" text-anchor="end" >0</text>
<line x1="33.3" y1="605.25" x2="36.3" y2="605.25" stroke="#bbb" stroke-width="0.8" />
<text x="29.7" y="608.85" font-size="9.7" text-anchor="end" >5</text>
<line x1="33.3" y1="580.50" x2="36.3" y2="580.50" stroke="#bbb" stroke-width="0.8" />
<text x="29.7" y="584.10" font-size="9.7" text-anchor="end" >10</text>
<line x1="33.3" y1="555.75" x2="36.3" y2="555.75" stroke="#bbb" stroke-width="0.8" />
<text x="29.7" y="559.35" font-size="9.7" text-anchor="end" >15</text>
<line x1="33.3" y1="531.00" x2="36.3" y2="531.00" stroke="#bbb" stroke-width="0.8" />
<text x="29.7" y="534.60" font-size="9.7" text-anchor="end" >20</text>
<line x1="33.3" y1="506.25" x2="36.3" y2="506.25" stroke="#bbb" stroke-width="0.8" />
<text x="29.7" y="509.85" font-size="9.7" text-anchor="end" >25</text>
<line x1="33.3" y1="481.50" x2="36.3" y2="481.50" stroke="#bbb" stroke-width="0.8" />
<text x="29.7" y="485.10" font-size="9.7" text-anchor="end" >30</text>
<text x="36.00" y="646.9" font-size="9.7" text-anchor="middle" >1</text>
<line x1="36.30" y1="629.3" x2="36.30" y2="632.3" stroke="#bbb" stroke-width="0.8" />
<text x="107.60" y="646.9" font-size="9.7" text-anchor="middle" >2</text>
<line x1="107.90" y1="629.3" x2="107.90" y2="632.3" stroke="#bbb" stroke-width="0.8" />
<text x="179.20" y="646.9" font-size="9.7" text-anchor="middle" >3</text>
<line x1="179.50" y1="629.3" x2="179.50" y2="632.3" stroke="#bbb" stroke-width="0.8" />
<text x="145" y="662.1" font-size="11.2" text-anchor="middle" textLength="85.2" lengthAdjust="spacingAndGlyphs" >Transplantation</text>
<text transform="translate(12.2,547.9) rotate(-90)" font-size="11.2" text-anchor="middle" textLength="128" lengthAdjust="spacingAndGlyphs">CRI GFP<tspan dy="-4" font-size="8">+</tspan><tspan dy="4"> vs. GFP</tspan><tspan dy="-4" font-size="8">-</tspan><tspan dy="4"> cells</tspan></text>
<path d="M36.30 625.05L107.90 623.81L179.50 621.34" fill="none" stroke="#111" stroke-width="1.1"/>
<path d="M36.30 625.05L107.90 559.22L179.50 512.19" fill="none" stroke="#0a0a0a" stroke-width="1.5"/>
<path d="M107.90 549.81V568.12M104.40 549.81h7M104.40 568.12h7" stroke="#5c5c5c" stroke-width="1.1" fill="none"/>
<path d="M179.50 488.43V535.95M176.00 488.43h7M176.00 535.95h7" stroke="#5c5c5c" stroke-width="1.1" fill="none"/>
<rect x="32.10" y="620.85" width="8.4" height="8.4" fill="#000"/>
<rect x="104.10" y="620.01" width="7.6" height="7.6" fill="#000"/>
<rect x="175.70" y="617.54" width="7.6" height="7.6" fill="#000"/>
<circle cx="36.30" cy="625.05" r="3.1" fill="#b8b8b8" stroke="#858585" stroke-width="1"/>
<circle cx="107.90" cy="559.22" r="3.9" fill="#b8b8b8" stroke="#858585" stroke-width="1"/>
<circle cx="179.50" cy="512.19" r="3.9" fill="#b8b8b8" stroke="#858585" stroke-width="1"/>
<rect x="45.90" y="492.60" width="9" height="9" fill="#000"/>
<text x="59.3" y="502.5" font-size="11.2" text-anchor="start" textLength="39.5" lengthAdjust="spacingAndGlyphs" >Control</text>
<circle cx="50.5" cy="514.3" r="3.9" fill="#adadad" stroke="#1a1a1a" stroke-width="1.5"/>
<text x="59.3" y="518.8" font-size="11.2" text-anchor="start" font-style="italic" textLength="28.7" lengthAdjust="spacingAndGlyphs" style="stroke-width:0.65px">Ezh2</text>
<rect x="307.6" y="484.0" width="203.59999999999997" height="138.60000000000002" fill="none" stroke="#585858" stroke-width="1.2"/>
<line x1="304.6" y1="622.40" x2="307.6" y2="622.40" stroke="#888" stroke-width="0.8" />
<text x="299.2" y="627.90" font-size="10" text-anchor="end" >0</text>
<line x1="304.6" y1="576.30" x2="307.6" y2="576.30" stroke="#888" stroke-width="0.8" />
<text x="299.2" y="581.80" font-size="10" text-anchor="end" >0,5</text>
<line x1="304.6" y1="530.20" x2="307.6" y2="530.20" stroke="#888" stroke-width="0.8" />
<text x="299.2" y="535.10" font-size="10" text-anchor="end" >1</text>
<line x1="304.6" y1="484.10" x2="307.6" y2="484.10" stroke="#888" stroke-width="0.8" />
<text x="299.2" y="487.80" font-size="10" text-anchor="end" >1,5</text>
<text x="307.60" y="644.5" font-size="10" text-anchor="middle" >1</text>
<line x1="307.60" y1="622.6" x2="307.60" y2="625.6" stroke="#888" stroke-width="0.8" />
<text x="380.40" y="644.5" font-size="10" text-anchor="middle" >2</text>
<line x1="380.40" y1="622.6" x2="380.40" y2="625.6" stroke="#888" stroke-width="0.8" />
<text x="453.20" y="644.5" font-size="10" text-anchor="middle" >3</text>
<line x1="453.20" y1="622.6" x2="453.20" y2="625.6" stroke="#888" stroke-width="0.8" />
<text x="413.5" y="657" font-size="11.2" text-anchor="middle" textLength="85" lengthAdjust="spacingAndGlyphs" >Transplantation</text>
<text transform="translate(280,550.4) rotate(-90)" font-size="11.2" text-anchor="middle" textLength="155.5" lengthAdjust="spacingAndGlyphs">CRI GFP<tspan dy="-4" font-size="8">+</tspan><tspan dy="4"> vs. competitor cells</tspan></text>
<line x1="307.6" y1="510.5" x2="513" y2="510.5" stroke="#111" stroke-width="1.1" stroke-dasharray="3.7 2.1"/>
<line x1="307.6" y1="550.6" x2="513" y2="550.6" stroke="#111" stroke-width="1.1" stroke-dasharray="3.7 2.1"/>
<path d="M307.60 530.20L380.40 616.41L453.20 621.29" fill="none" stroke="#0a0a0a" stroke-width="1.6"/>
<path d="M307.60 530.20L380.40 520.52L453.20 523.75" fill="none" stroke="#222" stroke-width="1.35"/>
<path d="M380.40 486.87V555.09M376.90 486.87h7M376.90 555.09h7" stroke="#5c5c5c" stroke-width="1.1" fill="none"/>
<path d="M453.20 501.62V545.87M449.70 501.62h7M449.70 545.87h7" stroke="#5c5c5c" stroke-width="1.1" fill="none"/>
<rect x="303.50" y="526.10" width="8.2" height="8.2" fill="#000"/>
<rect x="376.30" y="611.81" width="8.2" height="8.2" fill="#000"/>
<rect x="449.10" y="616.69" width="8.2" height="8.2" fill="#000"/>
<circle cx="307.60" cy="530.20" r="3.1" fill="#b6b6b6" stroke="#808080" stroke-width="1"/>
<circle cx="380.40" cy="520.52" r="4.1" fill="#b6b6b6" stroke="#808080" stroke-width="1"/>
<circle cx="453.20" cy="523.75" r="4.1" fill="#b6b6b6" stroke="#808080" stroke-width="1"/>
<path d="M467 511.2l5 8h-4v23h4l-5 8l-5 -8h4v-23h-4z" fill="#000"/>
<text x="475.3" y="526.7" font-size="10" text-anchor="start" textLength="33" lengthAdjust="spacingAndGlyphs" >Normal</text>
<text x="475.3" y="537.8" font-size="10" text-anchor="start" textLength="26.4" lengthAdjust="spacingAndGlyphs" >range</text>
<rect x="455.40" y="579.70" width="8.8" height="8.8" fill="#000"/>
<text x="469.1" y="588.2" font-size="11.2" text-anchor="start" textLength="39.4" lengthAdjust="spacingAndGlyphs" >Control</text>
<circle cx="459.8" cy="601.2" r="3.9" fill="#adadad" stroke="#1a1a1a" stroke-width="1.5"/>
<text x="469.1" y="605.3" font-size="11.2" text-anchor="start" font-style="italic" textLength="29.3" lengthAdjust="spacingAndGlyphs" style="stroke-width:0.65px">Ezh2</text>
</svg>
</body></html>
